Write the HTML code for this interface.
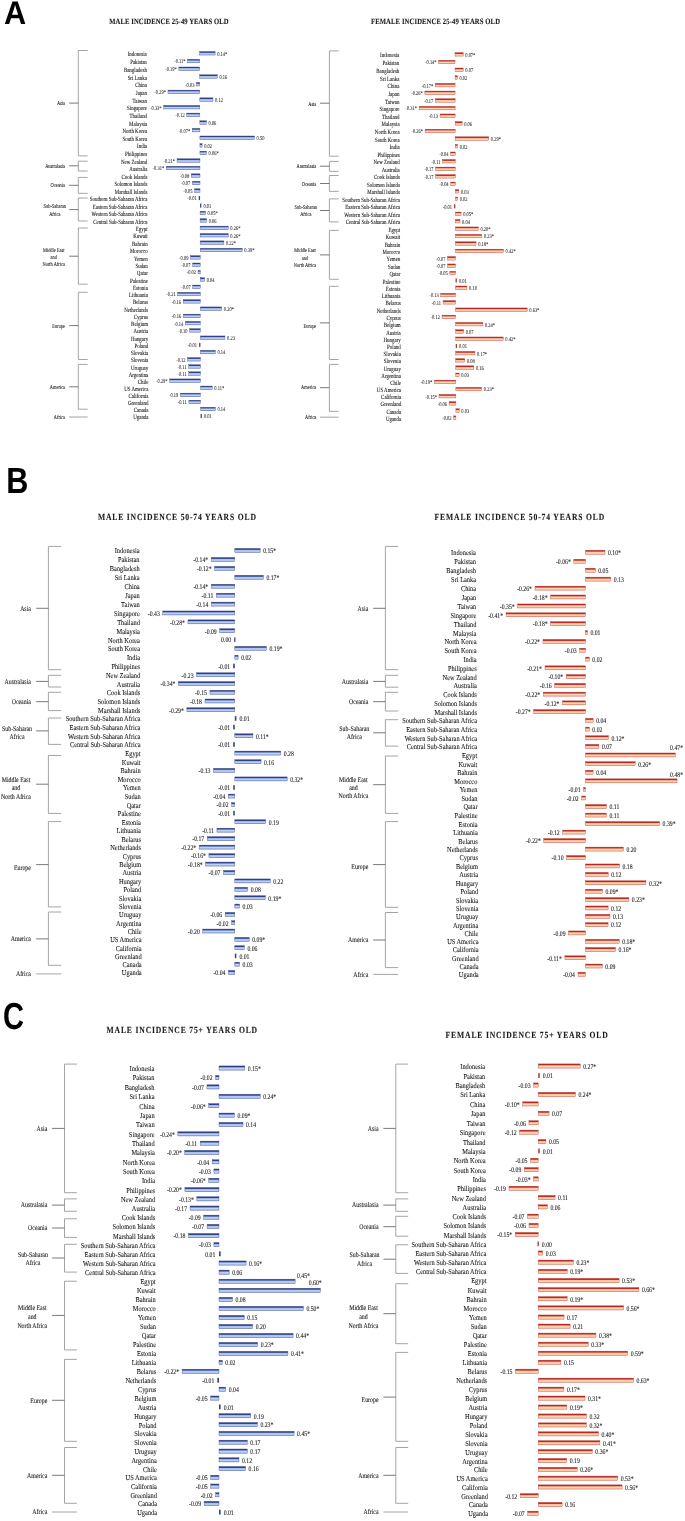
<!DOCTYPE html>
<html><head><meta charset="utf-8"><style>
html,body{margin:0;padding:0;background:#fff;}
svg{display:block;font-family:"Liberation Serif",serif;will-change:transform;text-rendering:geometricPrecision;filter:blur(0.3px);}
text{stroke:#1a1a1a;stroke-width:0.1;}
.br{fill:none;stroke:#9a9a9a;stroke-width:0.9;}
.tk{fill:none;stroke:#6a6a6a;stroke-width:0.9;}
</style></head><body>
<svg width="685" height="1521" viewBox="0 0 685 1521">
<defs>
<linearGradient id="gm" x1="0" y1="0" x2="0" y2="1">
<stop offset="0" stop-color="#22306e"/><stop offset="0.25" stop-color="#34468a"/><stop offset="0.4" stop-color="#95abe0"/><stop offset="0.6" stop-color="#c2d3f3"/><stop offset="0.85" stop-color="#aac0ec"/><stop offset="1" stop-color="#8196d0"/>
</linearGradient>
<linearGradient id="gf" x1="0" y1="0" x2="0" y2="1">
<stop offset="0" stop-color="#a81818"/><stop offset="0.27" stop-color="#c0302a"/><stop offset="0.4" stop-color="#f0a888"/><stop offset="0.6" stop-color="#fcd8b4"/><stop offset="0.85" stop-color="#f8c8a4"/><stop offset="1" stop-color="#e8a088"/>
</linearGradient>
</defs>
<text transform="translate(109.2,23.7) scale(0.82,1)" text-anchor="start" font-size="8.09" font-weight="bold" letter-spacing="0.12" fill="#1a1a1a">MALE INCIDENCE 25-49 YEARS OLD</text>
<path d="M87.7 50.5H78.3V155.9H87.7" class="br"/>
<line x1="69.2" y1="103.1" x2="78.3" y2="103.1" class="tk"/>
<text transform="translate(65,105) scale(0.76,1)" text-anchor="end" font-size="5.8" fill="#1a1a1a">Asia</text>
<path d="M87.7 161.2H78.3V171H87.7" class="br"/>
<line x1="69.2" y1="165.8" x2="78.3" y2="165.8" class="tk"/>
<text transform="translate(65,167.7) scale(0.76,1)" text-anchor="end" font-size="5.8" fill="#1a1a1a">Australasia</text>
<path d="M87.7 177.4H78.3V193.3H87.7" class="br"/>
<line x1="69.2" y1="185.3" x2="78.3" y2="185.3" class="tk"/>
<text transform="translate(65,186.7) scale(0.76,1)" text-anchor="end" font-size="5.8" fill="#1a1a1a">Oceania</text>
<path d="M87.7 198H78.3V221H87.7" class="br"/>
<line x1="69.2" y1="209.6" x2="78.3" y2="209.6" class="tk"/>
<text transform="translate(54.8,208.2) scale(0.76,1)" text-anchor="middle" font-size="5.8" fill="#1a1a1a">Sub-Saharan</text>
<text transform="translate(54.8,215.6) scale(0.76,1)" text-anchor="middle" font-size="5.8" fill="#1a1a1a">Africa</text>
<path d="M87.7 228H78.3V284.2H87.7" class="br"/>
<line x1="69.2" y1="256.2" x2="78.3" y2="256.2" class="tk"/>
<text transform="translate(53.7,251.8) scale(0.76,1)" text-anchor="middle" font-size="5.8" fill="#1a1a1a">Middle East</text>
<text transform="translate(53.7,259.3) scale(0.76,1)" text-anchor="middle" font-size="5.8" fill="#1a1a1a">and</text>
<text transform="translate(53.7,266.3) scale(0.76,1)" text-anchor="middle" font-size="5.8" fill="#1a1a1a">North Africa</text>
<path d="M87.7 292.3H78.3V359.5H87.7" class="br"/>
<line x1="69.2" y1="325.6" x2="78.3" y2="325.6" class="tk"/>
<text transform="translate(65,327.5) scale(0.76,1)" text-anchor="end" font-size="5.8" fill="#1a1a1a">Europe</text>
<path d="M87.7 364.4H78.3V409.2H87.7" class="br"/>
<line x1="69.2" y1="386.8" x2="78.3" y2="386.8" class="tk"/>
<text transform="translate(65,388.7) scale(0.76,1)" text-anchor="end" font-size="5.8" fill="#1a1a1a">America</text>
<line x1="69.2" y1="417" x2="87.7" y2="417" class="br"/>
<text transform="translate(65,418.9) scale(0.76,1)" text-anchor="end" font-size="5.8" fill="#1a1a1a">Africa</text>
<text transform="translate(146.8,56.39) scale(0.77,1)" text-anchor="end" font-size="6.4" style="stroke-width:0.1" fill="#1a1a1a">Indonesia</text>
<rect x="199.7" y="51.54" width="15.42" height="3.5" fill="url(#gm)" stroke="#44549a" stroke-width="0.4"/>
<text transform="translate(217.22,55.66) scale(0.77,1)" text-anchor="start" font-size="5.8" style="stroke-width:0.06" fill="#1a1a1a">0.14*</text>
<text transform="translate(146.83,64.14) scale(0.77,1)" text-anchor="end" font-size="6.4" style="stroke-width:0.1" fill="#1a1a1a">Pakistan</text>
<rect x="187.61" y="59.3" width="12.11" height="3.5" fill="url(#gm)" stroke="#44549a" stroke-width="0.4"/>
<text transform="translate(185.51,63.41) scale(0.77,1)" text-anchor="end" font-size="5.8" style="stroke-width:0.06" fill="#1a1a1a">-0.11*</text>
<text transform="translate(146.87,71.84) scale(0.77,1)" text-anchor="end" font-size="6.4" style="stroke-width:0.1" fill="#1a1a1a">Bangladesh</text>
<rect x="178.84" y="66.99" width="20.9" height="3.5" fill="url(#gm)" stroke="#44549a" stroke-width="0.4"/>
<text transform="translate(176.74,71.11) scale(0.77,1)" text-anchor="end" font-size="5.8" style="stroke-width:0.06" fill="#1a1a1a">-0.19*</text>
<text transform="translate(146.9,79.6) scale(0.77,1)" text-anchor="end" font-size="6.4" style="stroke-width:0.1" fill="#1a1a1a">Sri Lanka</text>
<rect x="199.76" y="74.75" width="17.58" height="3.5" fill="url(#gm)" stroke="#44549a" stroke-width="0.4"/>
<text transform="translate(219.44,78.86) scale(0.77,1)" text-anchor="start" font-size="5.8" style="stroke-width:0.06" fill="#1a1a1a">0.16</text>
<text transform="translate(146.94,87.33) scale(0.77,1)" text-anchor="end" font-size="6.4" style="stroke-width:0.1" fill="#1a1a1a">China</text>
<rect x="196.48" y="82.49" width="3.29" height="3.5" fill="url(#gm)" stroke="#44549a" stroke-width="0.4"/>
<text transform="translate(194.38,86.6) scale(0.77,1)" text-anchor="end" font-size="5.8" style="stroke-width:0.06" fill="#1a1a1a">-0.03</text>
<text transform="translate(146.97,94.98) scale(0.77,1)" text-anchor="end" font-size="6.4" style="stroke-width:0.1" fill="#1a1a1a">Japan</text>
<rect x="167.97" y="90.13" width="31.82" height="3.5" fill="url(#gm)" stroke="#44549a" stroke-width="0.4"/>
<text transform="translate(165.87,94.24) scale(0.77,1)" text-anchor="end" font-size="5.8" style="stroke-width:0.06" fill="#1a1a1a">-0.29*</text>
<text transform="translate(147.01,102.67) scale(0.77,1)" text-anchor="end" font-size="6.4" style="stroke-width:0.1" fill="#1a1a1a">Taiwan</text>
<rect x="199.81" y="97.83" width="13.16" height="3.5" fill="url(#gm)" stroke="#44549a" stroke-width="0.4"/>
<text transform="translate(215.07,101.94) scale(0.77,1)" text-anchor="start" font-size="5.8" style="stroke-width:0.06" fill="#1a1a1a">0.12</text>
<text transform="translate(147.04,110.31) scale(0.77,1)" text-anchor="end" font-size="6.4" style="stroke-width:0.1" fill="#1a1a1a">Singapore</text>
<rect x="163.68" y="105.46" width="36.15" height="3.5" fill="url(#gm)" stroke="#44549a" stroke-width="0.4"/>
<text transform="translate(161.58,109.57) scale(0.77,1)" text-anchor="end" font-size="5.8" style="stroke-width:0.06" fill="#1a1a1a">-0.33*</text>
<text transform="translate(147.08,117.95) scale(0.77,1)" text-anchor="end" font-size="6.4" style="stroke-width:0.1" fill="#1a1a1a">Thailand</text>
<rect x="186.71" y="113.1" width="13.13" height="3.5" fill="url(#gm)" stroke="#44549a" stroke-width="0.4"/>
<text transform="translate(184.61,117.21) scale(0.77,1)" text-anchor="end" font-size="5.8" style="stroke-width:0.06" fill="#1a1a1a">-0.12</text>
<text transform="translate(147.11,125.63) scale(0.77,1)" text-anchor="end" font-size="6.4" style="stroke-width:0.1" fill="#1a1a1a">Malaysia</text>
<rect x="199.87" y="120.79" width="6.56" height="3.5" fill="url(#gm)" stroke="#44549a" stroke-width="0.4"/>
<text transform="translate(208.53,124.9) scale(0.77,1)" text-anchor="start" font-size="5.8" style="stroke-width:0.06" fill="#1a1a1a">0.06</text>
<text transform="translate(147.15,133.25) scale(0.77,1)" text-anchor="end" font-size="6.4" style="stroke-width:0.1" fill="#1a1a1a">North Korea</text>
<rect x="192.23" y="128.4" width="7.65" height="3.5" fill="url(#gm)" stroke="#44549a" stroke-width="0.4"/>
<text transform="translate(190.13,132.51) scale(0.77,1)" text-anchor="end" font-size="5.8" style="stroke-width:0.06" fill="#1a1a1a">-0.07*</text>
<text transform="translate(147.18,140.84) scale(0.77,1)" text-anchor="end" font-size="6.4" style="stroke-width:0.1" fill="#1a1a1a">South Korea</text>
<rect x="199.9" y="135.99" width="54.6" height="3.5" fill="url(#gm)" stroke="#44549a" stroke-width="0.4"/>
<text transform="translate(256.6,140.1) scale(0.77,1)" text-anchor="start" font-size="5.8" style="stroke-width:0.06" fill="#1a1a1a">0.50</text>
<text transform="translate(147.22,148.46) scale(0.77,1)" text-anchor="end" font-size="6.4" style="stroke-width:0.1" fill="#1a1a1a">India</text>
<rect x="199.92" y="143.61" width="2.18" height="3.5" fill="url(#gm)" stroke="#44549a" stroke-width="0.4"/>
<text transform="translate(204.2,147.72) scale(0.77,1)" text-anchor="start" font-size="5.8" style="stroke-width:0.06" fill="#1a1a1a">0.02</text>
<text transform="translate(147.25,156.02) scale(0.77,1)" text-anchor="end" font-size="6.4" style="stroke-width:0.1" fill="#1a1a1a">Philippines</text>
<rect x="199.94" y="151.17" width="6.54" height="3.5" fill="url(#gm)" stroke="#44549a" stroke-width="0.4"/>
<text transform="translate(208.58,155.28) scale(0.77,1)" text-anchor="start" font-size="5.8" style="stroke-width:0.06" fill="#1a1a1a">0.06*</text>
<text transform="translate(147.29,163.6) scale(0.77,1)" text-anchor="end" font-size="6.4" style="stroke-width:0.1" fill="#1a1a1a">New Zealand</text>
<rect x="177.08" y="158.76" width="22.87" height="3.5" fill="url(#gm)" stroke="#44549a" stroke-width="0.4"/>
<text transform="translate(174.98,162.87) scale(0.77,1)" text-anchor="end" font-size="5.8" style="stroke-width:0.06" fill="#1a1a1a">-0.21*</text>
<text transform="translate(147.32,171.1) scale(0.77,1)" text-anchor="end" font-size="6.4" style="stroke-width:0.1" fill="#1a1a1a">Australia</text>
<rect x="166.24" y="166.25" width="33.74" height="3.5" fill="url(#gm)" stroke="#44549a" stroke-width="0.4"/>
<text transform="translate(164.14,170.36) scale(0.77,1)" text-anchor="end" font-size="5.8" style="stroke-width:0.06" fill="#1a1a1a">-0.31*</text>
<text transform="translate(147.36,178.65) scale(0.77,1)" text-anchor="end" font-size="6.4" style="stroke-width:0.1" fill="#1a1a1a">Cook Islands</text>
<rect x="191.29" y="173.81" width="8.7" height="3.5" fill="url(#gm)" stroke="#44549a" stroke-width="0.4"/>
<text transform="translate(189.19,177.92) scale(0.77,1)" text-anchor="end" font-size="5.8" style="stroke-width:0.06" fill="#1a1a1a">-0.08</text>
<text transform="translate(147.39,186.14) scale(0.77,1)" text-anchor="end" font-size="6.4" style="stroke-width:0.1" fill="#1a1a1a">Solomon Islands</text>
<rect x="192.41" y="181.29" width="7.61" height="3.5" fill="url(#gm)" stroke="#44549a" stroke-width="0.4"/>
<text transform="translate(190.31,185.4) scale(0.77,1)" text-anchor="end" font-size="5.8" style="stroke-width:0.06" fill="#1a1a1a">-0.07</text>
<text transform="translate(147.42,193.64) scale(0.77,1)" text-anchor="end" font-size="6.4" style="stroke-width:0.1" fill="#1a1a1a">Marshall Islands</text>
<rect x="194.6" y="188.8" width="5.43" height="3.5" fill="url(#gm)" stroke="#44549a" stroke-width="0.4"/>
<text transform="translate(192.5,192.91) scale(0.77,1)" text-anchor="end" font-size="5.8" style="stroke-width:0.06" fill="#1a1a1a">-0.05</text>
<text transform="translate(147.46,201.13) scale(0.77,1)" text-anchor="end" font-size="6.4" style="stroke-width:0.1" fill="#1a1a1a">Southern Sub-Saharan Africa</text>
<rect x="198.75" y="195.99" width="1.3" height="4.1" fill="#26346e" opacity="0.9"/>
<text transform="translate(196.65,200.4) scale(0.77,1)" text-anchor="end" font-size="5.8" style="stroke-width:0.06" fill="#1a1a1a">-0.01</text>
<text transform="translate(147.49,208.66) scale(0.77,1)" text-anchor="end" font-size="6.4" style="stroke-width:0.1" fill="#1a1a1a">Eastern Sub-Saharan Africa</text>
<rect x="200.07" y="203.51" width="1.3" height="4.1" fill="#26346e" opacity="0.9"/>
<text transform="translate(203.47,207.92) scale(0.77,1)" text-anchor="start" font-size="5.8" style="stroke-width:0.06" fill="#1a1a1a">0.01</text>
<text transform="translate(147.53,216.08) scale(0.77,1)" text-anchor="end" font-size="6.4" style="stroke-width:0.1" fill="#1a1a1a">Western Sub-Saharan Africa</text>
<rect x="200.09" y="211.23" width="5.42" height="3.5" fill="url(#gm)" stroke="#44549a" stroke-width="0.4"/>
<text transform="translate(207.6,215.34) scale(0.77,1)" text-anchor="start" font-size="5.8" style="stroke-width:0.06" fill="#1a1a1a">0.05*</text>
<text transform="translate(147.56,223.53) scale(0.77,1)" text-anchor="end" font-size="6.4" style="stroke-width:0.1" fill="#1a1a1a">Central Sub-Saharan Africa</text>
<rect x="200.1" y="218.69" width="6.49" height="3.5" fill="url(#gm)" stroke="#44549a" stroke-width="0.4"/>
<text transform="translate(208.7,222.8) scale(0.77,1)" text-anchor="start" font-size="5.8" style="stroke-width:0.06" fill="#1a1a1a">0.06</text>
<text transform="translate(147.6,230.98) scale(0.77,1)" text-anchor="end" font-size="6.4" style="stroke-width:0.1" fill="#1a1a1a">Egypt</text>
<rect x="200.12" y="226.13" width="28.11" height="3.5" fill="url(#gm)" stroke="#44549a" stroke-width="0.4"/>
<text transform="translate(230.34,230.24) scale(0.77,1)" text-anchor="start" font-size="5.8" style="stroke-width:0.06" fill="#1a1a1a">0.26*</text>
<text transform="translate(147.63,238.38) scale(0.77,1)" text-anchor="end" font-size="6.4" style="stroke-width:0.1" fill="#1a1a1a">Kuwait</text>
<rect x="200.14" y="233.53" width="28.09" height="3.5" fill="url(#gm)" stroke="#44549a" stroke-width="0.4"/>
<text transform="translate(230.33,237.64) scale(0.77,1)" text-anchor="start" font-size="5.8" style="stroke-width:0.06" fill="#1a1a1a">0.26*</text>
<text transform="translate(147.67,245.75) scale(0.77,1)" text-anchor="end" font-size="6.4" style="stroke-width:0.1" fill="#1a1a1a">Bahrain</text>
<rect x="200.16" y="240.9" width="23.75" height="3.5" fill="url(#gm)" stroke="#44549a" stroke-width="0.4"/>
<text transform="translate(226.01,245.01) scale(0.77,1)" text-anchor="start" font-size="5.8" style="stroke-width:0.06" fill="#1a1a1a">0.22*</text>
<text transform="translate(147.7,253.11) scale(0.77,1)" text-anchor="end" font-size="6.4" style="stroke-width:0.1" fill="#1a1a1a">Morocco</text>
<rect x="200.18" y="248.27" width="42.07" height="3.5" fill="url(#gm)" stroke="#44549a" stroke-width="0.4"/>
<text transform="translate(244.35,252.38) scale(0.77,1)" text-anchor="start" font-size="5.8" style="stroke-width:0.06" fill="#1a1a1a">0.39*</text>
<text transform="translate(147.74,260.51) scale(0.77,1)" text-anchor="end" font-size="6.4" style="stroke-width:0.1" fill="#1a1a1a">Yemen</text>
<rect x="190.5" y="255.66" width="9.7" height="3.5" fill="url(#gm)" stroke="#44549a" stroke-width="0.4"/>
<text transform="translate(188.4,259.77) scale(0.77,1)" text-anchor="end" font-size="5.8" style="stroke-width:0.06" fill="#1a1a1a">-0.09</text>
<text transform="translate(147.77,267.84) scale(0.77,1)" text-anchor="end" font-size="6.4" style="stroke-width:0.1" fill="#1a1a1a">Sudan</text>
<rect x="192.68" y="263" width="7.54" height="3.5" fill="url(#gm)" stroke="#44549a" stroke-width="0.4"/>
<text transform="translate(190.58,267.11) scale(0.77,1)" text-anchor="end" font-size="5.8" style="stroke-width:0.06" fill="#1a1a1a">-0.07</text>
<text transform="translate(147.81,275.18) scale(0.77,1)" text-anchor="end" font-size="6.4" style="stroke-width:0.1" fill="#1a1a1a">Qatar</text>
<rect x="198.08" y="270.34" width="2.15" height="3.5" fill="url(#gm)" stroke="#44549a" stroke-width="0.4"/>
<text transform="translate(195.98,274.45) scale(0.77,1)" text-anchor="end" font-size="5.8" style="stroke-width:0.06" fill="#1a1a1a">-0.02</text>
<text transform="translate(147.84,282.54) scale(0.77,1)" text-anchor="end" font-size="6.4" style="stroke-width:0.1" fill="#1a1a1a">Palestine</text>
<rect x="200.25" y="277.7" width="4.3" height="3.5" fill="url(#gm)" stroke="#44549a" stroke-width="0.4"/>
<text transform="translate(206.65,281.81) scale(0.77,1)" text-anchor="start" font-size="5.8" style="stroke-width:0.06" fill="#1a1a1a">0.04</text>
<text transform="translate(147.88,289.9) scale(0.77,1)" text-anchor="end" font-size="6.4" style="stroke-width:0.1" fill="#1a1a1a">Estonia</text>
<rect x="192.75" y="285.06" width="7.52" height="3.5" fill="url(#gm)" stroke="#44549a" stroke-width="0.4"/>
<text transform="translate(190.65,289.17) scale(0.77,1)" text-anchor="end" font-size="5.8" style="stroke-width:0.06" fill="#1a1a1a">-0.07</text>
<text transform="translate(147.91,297.19) scale(0.77,1)" text-anchor="end" font-size="6.4" style="stroke-width:0.1" fill="#1a1a1a">Lithuania</text>
<rect x="177.75" y="292.35" width="22.54" height="3.5" fill="url(#gm)" stroke="#44549a" stroke-width="0.4"/>
<text transform="translate(175.65,296.46) scale(0.77,1)" text-anchor="end" font-size="5.8" style="stroke-width:0.06" fill="#1a1a1a">-0.21</text>
<text transform="translate(147.94,304.48) scale(0.77,1)" text-anchor="end" font-size="6.4" style="stroke-width:0.1" fill="#1a1a1a">Belarus</text>
<rect x="183.15" y="299.64" width="17.16" height="3.5" fill="url(#gm)" stroke="#44549a" stroke-width="0.4"/>
<text transform="translate(181.05,303.75) scale(0.77,1)" text-anchor="end" font-size="5.8" style="stroke-width:0.06" fill="#1a1a1a">-0.16</text>
<text transform="translate(147.98,311.76) scale(0.77,1)" text-anchor="end" font-size="6.4" style="stroke-width:0.1" fill="#1a1a1a">Netherlands</text>
<rect x="200.32" y="306.92" width="21.43" height="3.5" fill="url(#gm)" stroke="#44549a" stroke-width="0.4"/>
<text transform="translate(223.86,311.03) scale(0.77,1)" text-anchor="start" font-size="5.8" style="stroke-width:0.06" fill="#1a1a1a">0.20*</text>
<text transform="translate(148.01,319) scale(0.77,1)" text-anchor="end" font-size="6.4" style="stroke-width:0.1" fill="#1a1a1a">Cyprus</text>
<rect x="183.21" y="314.15" width="17.13" height="3.5" fill="url(#gm)" stroke="#44549a" stroke-width="0.4"/>
<text transform="translate(181.11,318.26) scale(0.77,1)" text-anchor="end" font-size="5.8" style="stroke-width:0.06" fill="#1a1a1a">-0.16</text>
<text transform="translate(148.05,326.26) scale(0.77,1)" text-anchor="end" font-size="6.4" style="stroke-width:0.1" fill="#1a1a1a">Belgium</text>
<rect x="185.38" y="321.41" width="14.98" height="3.5" fill="url(#gm)" stroke="#44549a" stroke-width="0.4"/>
<text transform="translate(183.28,325.52) scale(0.77,1)" text-anchor="end" font-size="5.8" style="stroke-width:0.06" fill="#1a1a1a">-0.14</text>
<text transform="translate(148.08,333.48) scale(0.77,1)" text-anchor="end" font-size="6.4" style="stroke-width:0.1" fill="#1a1a1a">Austria</text>
<rect x="189.69" y="328.64" width="10.69" height="3.5" fill="url(#gm)" stroke="#44549a" stroke-width="0.4"/>
<text transform="translate(187.59,332.75) scale(0.77,1)" text-anchor="end" font-size="5.8" style="stroke-width:0.06" fill="#1a1a1a">-0.10</text>
<text transform="translate(148.12,340.79) scale(0.77,1)" text-anchor="end" font-size="6.4" style="stroke-width:0.1" fill="#1a1a1a">Hungary</text>
<rect x="200.4" y="335.94" width="24.57" height="3.5" fill="url(#gm)" stroke="#44549a" stroke-width="0.4"/>
<text transform="translate(227.06,340.06) scale(0.77,1)" text-anchor="start" font-size="5.8" style="stroke-width:0.06" fill="#1a1a1a">0.23</text>
<text transform="translate(148.15,347.96) scale(0.77,1)" text-anchor="end" font-size="6.4" style="stroke-width:0.1" fill="#1a1a1a">Poland</text>
<rect x="199.12" y="342.82" width="1.3" height="4.1" fill="#26346e" opacity="0.9"/>
<text transform="translate(197.02,347.23) scale(0.77,1)" text-anchor="end" font-size="5.8" style="stroke-width:0.06" fill="#1a1a1a">-0.01</text>
<text transform="translate(148.19,355.2) scale(0.77,1)" text-anchor="end" font-size="6.4" style="stroke-width:0.1" fill="#1a1a1a">Slovakia</text>
<rect x="200.43" y="350.36" width="14.93" height="3.5" fill="url(#gm)" stroke="#44549a" stroke-width="0.4"/>
<text transform="translate(217.46,354.47) scale(0.77,1)" text-anchor="start" font-size="5.8" style="stroke-width:0.06" fill="#1a1a1a">0.14</text>
<text transform="translate(148.22,362.41) scale(0.77,1)" text-anchor="end" font-size="6.4" style="stroke-width:0.1" fill="#1a1a1a">Slovenia</text>
<rect x="187.67" y="357.57" width="12.79" height="3.5" fill="url(#gm)" stroke="#44549a" stroke-width="0.4"/>
<text transform="translate(185.57,361.68) scale(0.77,1)" text-anchor="end" font-size="5.8" style="stroke-width:0.06" fill="#1a1a1a">-0.12</text>
<text transform="translate(148.26,369.55) scale(0.77,1)" text-anchor="end" font-size="6.4" style="stroke-width:0.1" fill="#1a1a1a">Uruguay</text>
<rect x="188.76" y="364.7" width="11.71" height="3.5" fill="url(#gm)" stroke="#44549a" stroke-width="0.4"/>
<text transform="translate(186.66,368.81) scale(0.77,1)" text-anchor="end" font-size="5.8" style="stroke-width:0.06" fill="#1a1a1a">-0.11</text>
<text transform="translate(148.29,376.65) scale(0.77,1)" text-anchor="end" font-size="6.4" style="stroke-width:0.1" fill="#1a1a1a">Argentina</text>
<rect x="188.79" y="371.8" width="11.7" height="3.5" fill="url(#gm)" stroke="#44549a" stroke-width="0.4"/>
<text transform="translate(186.69,375.91) scale(0.77,1)" text-anchor="end" font-size="5.8" style="stroke-width:0.06" fill="#1a1a1a">-0.11</text>
<text transform="translate(148.33,383.76) scale(0.77,1)" text-anchor="end" font-size="6.4" style="stroke-width:0.1" fill="#1a1a1a">Chile</text>
<rect x="169.69" y="378.91" width="30.82" height="3.5" fill="url(#gm)" stroke="#44549a" stroke-width="0.4"/>
<text transform="translate(167.59,383.02) scale(0.77,1)" text-anchor="end" font-size="5.8" style="stroke-width:0.06" fill="#1a1a1a">-0.29*</text>
<text transform="translate(148.36,390.91) scale(0.77,1)" text-anchor="end" font-size="6.4" style="stroke-width:0.1" fill="#1a1a1a">US America</text>
<rect x="200.53" y="386.06" width="11.68" height="3.5" fill="url(#gm)" stroke="#44549a" stroke-width="0.4"/>
<text transform="translate(214.31,390.17) scale(0.77,1)" text-anchor="start" font-size="5.8" style="stroke-width:0.06" fill="#1a1a1a">0.11*</text>
<text transform="translate(148.4,398) scale(0.77,1)" text-anchor="end" font-size="6.4" style="stroke-width:0.1" fill="#1a1a1a">California</text>
<rect x="180.39" y="393.15" width="20.16" height="3.5" fill="url(#gm)" stroke="#44549a" stroke-width="0.4"/>
<text transform="translate(178.29,397.26) scale(0.77,1)" text-anchor="end" font-size="5.8" style="stroke-width:0.06" fill="#1a1a1a">-0.19</text>
<text transform="translate(148.43,405.03) scale(0.77,1)" text-anchor="end" font-size="6.4" style="stroke-width:0.1" fill="#1a1a1a">Greenland</text>
<rect x="188.9" y="400.18" width="11.66" height="3.5" fill="url(#gm)" stroke="#44549a" stroke-width="0.4"/>
<text transform="translate(186.8,404.29) scale(0.77,1)" text-anchor="end" font-size="5.8" style="stroke-width:0.06" fill="#1a1a1a">-0.11</text>
<text transform="translate(148.47,412.11) scale(0.77,1)" text-anchor="end" font-size="6.4" style="stroke-width:0.1" fill="#1a1a1a">Canada</text>
<rect x="200.58" y="407.26" width="14.83" height="3.5" fill="url(#gm)" stroke="#44549a" stroke-width="0.4"/>
<text transform="translate(217.51,411.37) scale(0.77,1)" text-anchor="start" font-size="5.8" style="stroke-width:0.06" fill="#1a1a1a">0.14</text>
<text transform="translate(148.5,419.13) scale(0.77,1)" text-anchor="end" font-size="6.4" style="stroke-width:0.1" fill="#1a1a1a">Uganda</text>
<rect x="200.6" y="413.99" width="1.3" height="4.1" fill="#26346e" opacity="0.9"/>
<text transform="translate(204,418.4) scale(0.77,1)" text-anchor="start" font-size="5.8" style="stroke-width:0.06" fill="#1a1a1a">0.01</text>
<text transform="translate(371,23.6) scale(0.82,1)" text-anchor="start" font-size="8.09" font-weight="bold" letter-spacing="0.16" fill="#1a1a1a">FEMALE INCIDENCE 25-49 YEARS OLD</text>
<path d="M338.6 50.9H329.4V156.2H338.6" class="br"/>
<line x1="320" y1="103.2" x2="329.4" y2="103.2" class="tk"/>
<text transform="translate(316.3,105.8) scale(0.76,1)" text-anchor="end" font-size="5.8" fill="#1a1a1a">Asia</text>
<path d="M338.6 161.4H329.4V171.3H338.6" class="br"/>
<line x1="320" y1="166.2" x2="329.4" y2="166.2" class="tk"/>
<text transform="translate(316.3,167.7) scale(0.76,1)" text-anchor="end" font-size="5.8" fill="#1a1a1a">Australasia</text>
<path d="M338.6 175.5H329.4V191.4H338.6" class="br"/>
<line x1="320" y1="183.5" x2="329.4" y2="183.5" class="tk"/>
<text transform="translate(316.3,186.3) scale(0.76,1)" text-anchor="end" font-size="5.8" fill="#1a1a1a">Oceania</text>
<path d="M338.6 198.9H329.4V221.9H338.6" class="br"/>
<line x1="320" y1="210.5" x2="329.4" y2="210.5" class="tk"/>
<text transform="translate(305.8,208.6) scale(0.76,1)" text-anchor="middle" font-size="5.8" fill="#1a1a1a">Sub-Saharan</text>
<text transform="translate(305.8,216.1) scale(0.76,1)" text-anchor="middle" font-size="5.8" fill="#1a1a1a">Africa</text>
<path d="M338.6 230.4H329.4V279.3H338.6" class="br"/>
<line x1="320" y1="254.9" x2="329.4" y2="254.9" class="tk"/>
<text transform="translate(305,252.3) scale(0.76,1)" text-anchor="middle" font-size="5.8" fill="#1a1a1a">Middle East</text>
<text transform="translate(305,259.7) scale(0.76,1)" text-anchor="middle" font-size="5.8" fill="#1a1a1a">and</text>
<text transform="translate(305,266.7) scale(0.76,1)" text-anchor="middle" font-size="5.8" fill="#1a1a1a">North Africa</text>
<path d="M338.6 286.3H329.4V359.5H338.6" class="br"/>
<line x1="320" y1="322.9" x2="329.4" y2="322.9" class="tk"/>
<text transform="translate(316.3,327.6) scale(0.76,1)" text-anchor="end" font-size="5.8" fill="#1a1a1a">Europe</text>
<path d="M338.6 364.4H329.4V411.4H338.6" class="br"/>
<line x1="320" y1="387.7" x2="329.4" y2="387.7" class="tk"/>
<text transform="translate(316.3,389) scale(0.76,1)" text-anchor="end" font-size="5.8" fill="#1a1a1a">America</text>
<line x1="320" y1="417.2" x2="338.6" y2="417.2" class="br"/>
<text transform="translate(316.3,419.1) scale(0.76,1)" text-anchor="end" font-size="5.8" fill="#1a1a1a">Africa</text>
<text transform="translate(399.2,57.44) scale(0.77,1)" text-anchor="end" font-size="6.4" style="stroke-width:0.1" fill="#1a1a1a">Indonesia</text>
<rect x="455" y="52.6" width="8.18" height="3.5" fill="url(#gf)" stroke="#c0463c" stroke-width="0.4"/>
<text transform="translate(465.28,56.71) scale(0.77,1)" text-anchor="start" font-size="5.8" style="stroke-width:0.06" fill="#1a1a1a">0.07*</text>
<text transform="translate(399.24,65.12) scale(0.77,1)" text-anchor="end" font-size="6.4" style="stroke-width:0.1" fill="#1a1a1a">Pakistan</text>
<rect x="438.68" y="60.27" width="16.34" height="3.5" fill="url(#gf)" stroke="#c0463c" stroke-width="0.4"/>
<text transform="translate(436.58,64.38) scale(0.77,1)" text-anchor="end" font-size="5.8" style="stroke-width:0.06" fill="#1a1a1a">-0.14*</text>
<text transform="translate(399.28,72.84) scale(0.77,1)" text-anchor="end" font-size="6.4" style="stroke-width:0.1" fill="#1a1a1a">Bangladesh</text>
<rect x="455.04" y="67.99" width="8.16" height="3.5" fill="url(#gf)" stroke="#c0463c" stroke-width="0.4"/>
<text transform="translate(465.3,72.11) scale(0.77,1)" text-anchor="start" font-size="5.8" style="stroke-width:0.06" fill="#1a1a1a">0.07</text>
<text transform="translate(399.32,80.55) scale(0.77,1)" text-anchor="end" font-size="6.4" style="stroke-width:0.1" fill="#1a1a1a">Sri Lanka</text>
<rect x="455.06" y="75.71" width="2.33" height="3.5" fill="url(#gf)" stroke="#c0463c" stroke-width="0.4"/>
<text transform="translate(459.49,79.82) scale(0.77,1)" text-anchor="start" font-size="5.8" style="stroke-width:0.06" fill="#1a1a1a">0.02</text>
<text transform="translate(399.36,88.24) scale(0.77,1)" text-anchor="end" font-size="6.4" style="stroke-width:0.1" fill="#1a1a1a">China</text>
<rect x="435.28" y="83.39" width="19.79" height="3.5" fill="url(#gf)" stroke="#c0463c" stroke-width="0.4"/>
<text transform="translate(433.18,87.5) scale(0.77,1)" text-anchor="end" font-size="5.8" style="stroke-width:0.06" fill="#1a1a1a">-0.17*</text>
<text transform="translate(399.4,95.9) scale(0.77,1)" text-anchor="end" font-size="6.4" style="stroke-width:0.1" fill="#1a1a1a">Japan</text>
<rect x="424.85" y="91.05" width="30.24" height="3.5" fill="url(#gf)" stroke="#c0463c" stroke-width="0.4"/>
<text transform="translate(422.75,95.16) scale(0.77,1)" text-anchor="end" font-size="5.8" style="stroke-width:0.06" fill="#1a1a1a">-0.26*</text>
<text transform="translate(399.44,103.53) scale(0.77,1)" text-anchor="end" font-size="6.4" style="stroke-width:0.1" fill="#1a1a1a">Taiwan</text>
<rect x="435.35" y="98.69" width="19.76" height="3.5" fill="url(#gf)" stroke="#c0463c" stroke-width="0.4"/>
<text transform="translate(433.25,102.8) scale(0.77,1)" text-anchor="end" font-size="5.8" style="stroke-width:0.06" fill="#1a1a1a">-0.17</text>
<text transform="translate(399.49,111.2) scale(0.77,1)" text-anchor="end" font-size="6.4" style="stroke-width:0.1" fill="#1a1a1a">Singapore</text>
<rect x="419.13" y="106.35" width="36" height="3.5" fill="url(#gf)" stroke="#c0463c" stroke-width="0.4"/>
<text transform="translate(417.03,110.46) scale(0.77,1)" text-anchor="end" font-size="5.8" style="stroke-width:0.06" fill="#1a1a1a">-0.31*</text>
<text transform="translate(399.53,118.81) scale(0.77,1)" text-anchor="end" font-size="6.4" style="stroke-width:0.1" fill="#1a1a1a">Thailand</text>
<rect x="440.06" y="113.97" width="15.09" height="3.5" fill="url(#gf)" stroke="#c0463c" stroke-width="0.4"/>
<text transform="translate(437.96,118.08) scale(0.77,1)" text-anchor="end" font-size="5.8" style="stroke-width:0.06" fill="#1a1a1a">-0.13</text>
<text transform="translate(399.57,126.47) scale(0.77,1)" text-anchor="end" font-size="6.4" style="stroke-width:0.1" fill="#1a1a1a">Malaysia</text>
<rect x="455.17" y="121.63" width="6.96" height="3.5" fill="url(#gf)" stroke="#c0463c" stroke-width="0.4"/>
<text transform="translate(464.22,125.74) scale(0.77,1)" text-anchor="start" font-size="5.8" style="stroke-width:0.06" fill="#1a1a1a">0.06</text>
<text transform="translate(399.61,134.06) scale(0.77,1)" text-anchor="end" font-size="6.4" style="stroke-width:0.1" fill="#1a1a1a">North Korea</text>
<rect x="425.06" y="129.22" width="30.12" height="3.5" fill="url(#gf)" stroke="#c0463c" stroke-width="0.4"/>
<text transform="translate(422.96,133.33) scale(0.77,1)" text-anchor="end" font-size="5.8" style="stroke-width:0.06" fill="#1a1a1a">-0.26*</text>
<text transform="translate(399.65,141.63) scale(0.77,1)" text-anchor="end" font-size="6.4" style="stroke-width:0.1" fill="#1a1a1a">South Korea</text>
<rect x="455.2" y="136.78" width="33.57" height="3.5" fill="url(#gf)" stroke="#c0463c" stroke-width="0.4"/>
<text transform="translate(490.87,140.89) scale(0.77,1)" text-anchor="start" font-size="5.8" style="stroke-width:0.06" fill="#1a1a1a">0.29*</text>
<text transform="translate(399.69,149.24) scale(0.77,1)" text-anchor="end" font-size="6.4" style="stroke-width:0.1" fill="#1a1a1a">India</text>
<rect x="455.22" y="144.4" width="2.31" height="3.5" fill="url(#gf)" stroke="#c0463c" stroke-width="0.4"/>
<text transform="translate(459.63,148.51) scale(0.77,1)" text-anchor="start" font-size="5.8" style="stroke-width:0.06" fill="#1a1a1a">0.02</text>
<text transform="translate(399.73,156.83) scale(0.77,1)" text-anchor="end" font-size="6.4" style="stroke-width:0.1" fill="#1a1a1a">Philippines</text>
<rect x="450.62" y="151.98" width="4.62" height="3.5" fill="url(#gf)" stroke="#c0463c" stroke-width="0.4"/>
<text transform="translate(448.52,156.09) scale(0.77,1)" text-anchor="end" font-size="5.8" style="stroke-width:0.06" fill="#1a1a1a">-0.04</text>
<text transform="translate(399.77,164.35) scale(0.77,1)" text-anchor="end" font-size="6.4" style="stroke-width:0.1" fill="#1a1a1a">New Zealand</text>
<rect x="442.55" y="159.5" width="12.7" height="3.5" fill="url(#gf)" stroke="#c0463c" stroke-width="0.4"/>
<text transform="translate(440.45,163.61) scale(0.77,1)" text-anchor="end" font-size="5.8" style="stroke-width:0.06" fill="#1a1a1a">-0.11</text>
<text transform="translate(399.81,171.93) scale(0.77,1)" text-anchor="end" font-size="6.4" style="stroke-width:0.1" fill="#1a1a1a">Australia</text>
<rect x="435.66" y="167.08" width="19.62" height="3.5" fill="url(#gf)" stroke="#c0463c" stroke-width="0.4"/>
<text transform="translate(433.56,171.19) scale(0.77,1)" text-anchor="end" font-size="5.8" style="stroke-width:0.06" fill="#1a1a1a">-0.17</text>
<text transform="translate(399.85,179.44) scale(0.77,1)" text-anchor="end" font-size="6.4" style="stroke-width:0.1" fill="#1a1a1a">Cook Islands</text>
<rect x="435.69" y="174.59" width="19.6" height="3.5" fill="url(#gf)" stroke="#c0463c" stroke-width="0.4"/>
<text transform="translate(433.59,178.7) scale(0.77,1)" text-anchor="end" font-size="5.8" style="stroke-width:0.06" fill="#1a1a1a">-0.17</text>
<text transform="translate(399.89,186.92) scale(0.77,1)" text-anchor="end" font-size="6.4" style="stroke-width:0.1" fill="#1a1a1a">Solomon Islands</text>
<rect x="450.7" y="182.07" width="4.61" height="3.5" fill="url(#gf)" stroke="#c0463c" stroke-width="0.4"/>
<text transform="translate(448.6,186.19) scale(0.77,1)" text-anchor="end" font-size="5.8" style="stroke-width:0.06" fill="#1a1a1a">-0.04</text>
<text transform="translate(399.93,194.42) scale(0.77,1)" text-anchor="end" font-size="6.4" style="stroke-width:0.1" fill="#1a1a1a">Marshall Islands</text>
<rect x="455.33" y="189.58" width="3.45" height="3.5" fill="url(#gf)" stroke="#c0463c" stroke-width="0.4"/>
<text transform="translate(460.88,193.69) scale(0.77,1)" text-anchor="start" font-size="5.8" style="stroke-width:0.06" fill="#1a1a1a">0.03</text>
<text transform="translate(399.98,201.92) scale(0.77,1)" text-anchor="end" font-size="6.4" style="stroke-width:0.1" fill="#1a1a1a">Southern Sub-Saharan Africa</text>
<rect x="455.35" y="197.07" width="2.3" height="3.5" fill="url(#gf)" stroke="#c0463c" stroke-width="0.4"/>
<text transform="translate(459.75,201.18) scale(0.77,1)" text-anchor="start" font-size="5.8" style="stroke-width:0.06" fill="#1a1a1a">0.02</text>
<text transform="translate(400.02,209.4) scale(0.77,1)" text-anchor="end" font-size="6.4" style="stroke-width:0.1" fill="#1a1a1a">Eastern Sub-Saharan Africa</text>
<rect x="454.07" y="204.25" width="1.3" height="4.1" fill="#a82020" opacity="0.9"/>
<text transform="translate(451.97,208.66) scale(0.77,1)" text-anchor="end" font-size="5.8" style="stroke-width:0.06" fill="#1a1a1a">-0.01</text>
<text transform="translate(400.06,216.9) scale(0.77,1)" text-anchor="end" font-size="6.4" style="stroke-width:0.1" fill="#1a1a1a">Western Sub-Saharan Africa</text>
<rect x="455.39" y="212.05" width="5.74" height="3.5" fill="url(#gf)" stroke="#c0463c" stroke-width="0.4"/>
<text transform="translate(463.23,216.16) scale(0.77,1)" text-anchor="start" font-size="5.8" style="stroke-width:0.06" fill="#1a1a1a">0.05*</text>
<text transform="translate(400.1,224.31) scale(0.77,1)" text-anchor="end" font-size="6.4" style="stroke-width:0.1" fill="#1a1a1a">Central Sub-Saharan Africa</text>
<rect x="455.4" y="219.47" width="4.59" height="3.5" fill="url(#gf)" stroke="#c0463c" stroke-width="0.4"/>
<text transform="translate(462.09,223.58) scale(0.77,1)" text-anchor="start" font-size="5.8" style="stroke-width:0.06" fill="#1a1a1a">0.04</text>
<text transform="translate(400.14,231.79) scale(0.77,1)" text-anchor="end" font-size="6.4" style="stroke-width:0.1" fill="#1a1a1a">Egypt</text>
<rect x="455.42" y="226.94" width="22.93" height="3.5" fill="url(#gf)" stroke="#c0463c" stroke-width="0.4"/>
<text transform="translate(480.45,231.05) scale(0.77,1)" text-anchor="start" font-size="5.8" style="stroke-width:0.06" fill="#1a1a1a">0.20*</text>
<text transform="translate(400.18,239.18) scale(0.77,1)" text-anchor="end" font-size="6.4" style="stroke-width:0.1" fill="#1a1a1a">Kuwait</text>
<rect x="455.44" y="234.34" width="26.35" height="3.5" fill="url(#gf)" stroke="#c0463c" stroke-width="0.4"/>
<text transform="translate(483.89,238.45) scale(0.77,1)" text-anchor="start" font-size="5.8" style="stroke-width:0.06" fill="#1a1a1a">0.23*</text>
<text transform="translate(400.22,246.59) scale(0.77,1)" text-anchor="end" font-size="6.4" style="stroke-width:0.1" fill="#1a1a1a">Bahrain</text>
<rect x="455.46" y="241.75" width="20.6" height="3.5" fill="url(#gf)" stroke="#c0463c" stroke-width="0.4"/>
<text transform="translate(478.16,245.86) scale(0.77,1)" text-anchor="start" font-size="5.8" style="stroke-width:0.06" fill="#1a1a1a">0.18*</text>
<text transform="translate(400.26,254.01) scale(0.77,1)" text-anchor="end" font-size="6.4" style="stroke-width:0.1" fill="#1a1a1a">Morocco</text>
<rect x="455.48" y="249.16" width="48.03" height="3.5" fill="url(#gf)" stroke="#c0463c" stroke-width="0.4"/>
<text transform="translate(505.61,253.27) scale(0.77,1)" text-anchor="start" font-size="5.8" style="stroke-width:0.06" fill="#1a1a1a">0.42*</text>
<text transform="translate(400.3,261.42) scale(0.77,1)" text-anchor="end" font-size="6.4" style="stroke-width:0.1" fill="#1a1a1a">Yemen</text>
<rect x="447.5" y="256.57" width="8" height="3.5" fill="url(#gf)" stroke="#c0463c" stroke-width="0.4"/>
<text transform="translate(445.4,260.68) scale(0.77,1)" text-anchor="end" font-size="5.8" style="stroke-width:0.06" fill="#1a1a1a">-0.07</text>
<text transform="translate(400.34,268.79) scale(0.77,1)" text-anchor="end" font-size="6.4" style="stroke-width:0.1" fill="#1a1a1a">Sudan</text>
<rect x="447.52" y="263.95" width="7.99" height="3.5" fill="url(#gf)" stroke="#c0463c" stroke-width="0.4"/>
<text transform="translate(445.42,268.06) scale(0.77,1)" text-anchor="end" font-size="5.8" style="stroke-width:0.06" fill="#1a1a1a">-0.07</text>
<text transform="translate(400.38,276.13) scale(0.77,1)" text-anchor="end" font-size="6.4" style="stroke-width:0.1" fill="#1a1a1a">Qatar</text>
<rect x="449.83" y="271.29" width="5.7" height="3.5" fill="url(#gf)" stroke="#c0463c" stroke-width="0.4"/>
<text transform="translate(447.73,275.4) scale(0.77,1)" text-anchor="end" font-size="5.8" style="stroke-width:0.06" fill="#1a1a1a">-0.05</text>
<text transform="translate(400.42,283.56) scale(0.77,1)" text-anchor="end" font-size="6.4" style="stroke-width:0.1" fill="#1a1a1a">Palestine</text>
<rect x="455.55" y="278.42" width="1.3" height="4.1" fill="#a82020" opacity="0.9"/>
<text transform="translate(458.95,282.83) scale(0.77,1)" text-anchor="start" font-size="5.8" style="stroke-width:0.06" fill="#1a1a1a">0.01</text>
<text transform="translate(400.47,290.85) scale(0.77,1)" text-anchor="end" font-size="6.4" style="stroke-width:0.1" fill="#1a1a1a">Estonia</text>
<rect x="455.57" y="286" width="11.39" height="3.5" fill="url(#gf)" stroke="#c0463c" stroke-width="0.4"/>
<text transform="translate(469.06,290.11) scale(0.77,1)" text-anchor="start" font-size="5.8" style="stroke-width:0.06" fill="#1a1a1a">0.10</text>
<text transform="translate(400.51,298.16) scale(0.77,1)" text-anchor="end" font-size="6.4" style="stroke-width:0.1" fill="#1a1a1a">Lithuania</text>
<rect x="440.79" y="293.31" width="14.79" height="3.5" fill="url(#gf)" stroke="#c0463c" stroke-width="0.4"/>
<text transform="translate(438.69,297.42) scale(0.77,1)" text-anchor="end" font-size="5.8" style="stroke-width:0.06" fill="#1a1a1a">-0.13</text>
<text transform="translate(400.55,305.45) scale(0.77,1)" text-anchor="end" font-size="6.4" style="stroke-width:0.1" fill="#1a1a1a">Belarus</text>
<rect x="443.1" y="300.6" width="12.51" height="3.5" fill="url(#gf)" stroke="#c0463c" stroke-width="0.4"/>
<text transform="translate(441,304.71) scale(0.77,1)" text-anchor="end" font-size="5.8" style="stroke-width:0.06" fill="#1a1a1a">-0.11</text>
<text transform="translate(400.59,312.78) scale(0.77,1)" text-anchor="end" font-size="6.4" style="stroke-width:0.1" fill="#1a1a1a">Netherlands</text>
<rect x="455.62" y="307.93" width="71.58" height="3.5" fill="url(#gf)" stroke="#c0463c" stroke-width="0.4"/>
<text transform="translate(529.3,312.04) scale(0.77,1)" text-anchor="start" font-size="5.8" style="stroke-width:0.06" fill="#1a1a1a">0.63*</text>
<text transform="translate(400.63,320.02) scale(0.77,1)" text-anchor="end" font-size="6.4" style="stroke-width:0.1" fill="#1a1a1a">Cyprus</text>
<rect x="442.02" y="315.17" width="13.62" height="3.5" fill="url(#gf)" stroke="#c0463c" stroke-width="0.4"/>
<text transform="translate(439.92,319.29) scale(0.77,1)" text-anchor="end" font-size="5.8" style="stroke-width:0.06" fill="#1a1a1a">-0.12</text>
<text transform="translate(400.67,327.27) scale(0.77,1)" text-anchor="end" font-size="6.4" style="stroke-width:0.1" fill="#1a1a1a">Belgium</text>
<rect x="455.66" y="322.42" width="27.22" height="3.5" fill="url(#gf)" stroke="#c0463c" stroke-width="0.4"/>
<text transform="translate(484.98,326.53) scale(0.77,1)" text-anchor="start" font-size="5.8" style="stroke-width:0.06" fill="#1a1a1a">0.24*</text>
<text transform="translate(400.71,334.58) scale(0.77,1)" text-anchor="end" font-size="6.4" style="stroke-width:0.1" fill="#1a1a1a">Austria</text>
<rect x="455.68" y="329.73" width="7.93" height="3.5" fill="url(#gf)" stroke="#c0463c" stroke-width="0.4"/>
<text transform="translate(465.71,333.84) scale(0.77,1)" text-anchor="start" font-size="5.8" style="stroke-width:0.06" fill="#1a1a1a">0.07</text>
<text transform="translate(400.75,341.82) scale(0.77,1)" text-anchor="end" font-size="6.4" style="stroke-width:0.1" fill="#1a1a1a">Hungary</text>
<rect x="455.7" y="336.97" width="47.56" height="3.5" fill="url(#gf)" stroke="#c0463c" stroke-width="0.4"/>
<text transform="translate(505.36,341.08) scale(0.77,1)" text-anchor="start" font-size="5.8" style="stroke-width:0.06" fill="#1a1a1a">0.42*</text>
<text transform="translate(400.79,349.09) scale(0.77,1)" text-anchor="end" font-size="6.4" style="stroke-width:0.1" fill="#1a1a1a">Poland</text>
<rect x="455.72" y="343.95" width="1.3" height="4.1" fill="#a82020" opacity="0.9"/>
<text transform="translate(459.12,348.36) scale(0.77,1)" text-anchor="start" font-size="5.8" style="stroke-width:0.06" fill="#1a1a1a">0.01</text>
<text transform="translate(400.83,356.28) scale(0.77,1)" text-anchor="end" font-size="6.4" style="stroke-width:0.1" fill="#1a1a1a">Slovakia</text>
<rect x="455.73" y="351.43" width="19.22" height="3.5" fill="url(#gf)" stroke="#c0463c" stroke-width="0.4"/>
<text transform="translate(477.05,355.54) scale(0.77,1)" text-anchor="start" font-size="5.8" style="stroke-width:0.06" fill="#1a1a1a">0.17*</text>
<text transform="translate(400.87,363.46) scale(0.77,1)" text-anchor="end" font-size="6.4" style="stroke-width:0.1" fill="#1a1a1a">Slovenia</text>
<rect x="455.75" y="358.61" width="9.04" height="3.5" fill="url(#gf)" stroke="#c0463c" stroke-width="0.4"/>
<text transform="translate(466.89,362.72) scale(0.77,1)" text-anchor="start" font-size="5.8" style="stroke-width:0.06" fill="#1a1a1a">0.08</text>
<text transform="translate(400.91,370.65) scale(0.77,1)" text-anchor="end" font-size="6.4" style="stroke-width:0.1" fill="#1a1a1a">Uruguay</text>
<rect x="455.77" y="365.81" width="18.06" height="3.5" fill="url(#gf)" stroke="#c0463c" stroke-width="0.4"/>
<text transform="translate(475.93,369.92) scale(0.77,1)" text-anchor="start" font-size="5.8" style="stroke-width:0.06" fill="#1a1a1a">0.16</text>
<text transform="translate(400.96,377.88) scale(0.77,1)" text-anchor="end" font-size="6.4" style="stroke-width:0.1" fill="#1a1a1a">Argentina</text>
<rect x="455.79" y="373.04" width="3.38" height="3.5" fill="url(#gf)" stroke="#c0463c" stroke-width="0.4"/>
<text transform="translate(461.27,377.15) scale(0.77,1)" text-anchor="start" font-size="5.8" style="stroke-width:0.06" fill="#1a1a1a">0.03</text>
<text transform="translate(401,385) scale(0.77,1)" text-anchor="end" font-size="6.4" style="stroke-width:0.1" fill="#1a1a1a">Chile</text>
<rect x="434.4" y="380.15" width="21.41" height="3.5" fill="url(#gf)" stroke="#c0463c" stroke-width="0.4"/>
<text transform="translate(432.3,384.26) scale(0.77,1)" text-anchor="end" font-size="5.8" style="stroke-width:0.06" fill="#1a1a1a">-0.19*</text>
<text transform="translate(401.04,392.18) scale(0.77,1)" text-anchor="end" font-size="6.4" style="stroke-width:0.1" fill="#1a1a1a">US America</text>
<rect x="455.83" y="387.33" width="25.89" height="3.5" fill="url(#gf)" stroke="#c0463c" stroke-width="0.4"/>
<text transform="translate(483.82,391.44) scale(0.77,1)" text-anchor="start" font-size="5.8" style="stroke-width:0.06" fill="#1a1a1a">0.23*</text>
<text transform="translate(401.08,399.28) scale(0.77,1)" text-anchor="end" font-size="6.4" style="stroke-width:0.1" fill="#1a1a1a">California</text>
<rect x="438.97" y="394.44" width="16.87" height="3.5" fill="url(#gf)" stroke="#c0463c" stroke-width="0.4"/>
<text transform="translate(436.87,398.55) scale(0.77,1)" text-anchor="end" font-size="5.8" style="stroke-width:0.06" fill="#1a1a1a">-0.15*</text>
<text transform="translate(401.12,406.47) scale(0.77,1)" text-anchor="end" font-size="6.4" style="stroke-width:0.1" fill="#1a1a1a">Greenland</text>
<rect x="449.12" y="401.62" width="6.74" height="3.5" fill="url(#gf)" stroke="#c0463c" stroke-width="0.4"/>
<text transform="translate(447.02,405.73) scale(0.77,1)" text-anchor="end" font-size="5.8" style="stroke-width:0.06" fill="#1a1a1a">-0.06</text>
<text transform="translate(401.16,413.62) scale(0.77,1)" text-anchor="end" font-size="6.4" style="stroke-width:0.1" fill="#1a1a1a">Canada</text>
<rect x="455.88" y="408.77" width="3.37" height="3.5" fill="url(#gf)" stroke="#c0463c" stroke-width="0.4"/>
<text transform="translate(461.35,412.88) scale(0.77,1)" text-anchor="start" font-size="5.8" style="stroke-width:0.06" fill="#1a1a1a">0.03</text>
<text transform="translate(401.2,420.74) scale(0.77,1)" text-anchor="end" font-size="6.4" style="stroke-width:0.1" fill="#1a1a1a">Uganda</text>
<rect x="453.66" y="415.89" width="2.24" height="3.5" fill="url(#gf)" stroke="#c0463c" stroke-width="0.4"/>
<text transform="translate(451.56,420) scale(0.77,1)" text-anchor="end" font-size="5.8" style="stroke-width:0.06" fill="#1a1a1a">-0.02</text>
<text transform="translate(97.9,519.5) scale(0.82,1)" text-anchor="start" font-size="9.31" font-weight="bold" letter-spacing="1.01" fill="#1a1a1a">MALE INCIDENCE 50-74 YEARS OLD</text>
<path d="M61.2 546.4H48.4V669.7H61.2" class="br"/>
<line x1="36.2" y1="608.3" x2="48.4" y2="608.3" class="tk"/>
<text transform="translate(30.9,610.67) scale(0.81,1)" text-anchor="end" font-size="7.25" fill="#1a1a1a">Asia</text>
<path d="M61.2 675.3H48.4V687H61.2" class="br"/>
<line x1="36.2" y1="681.4" x2="48.4" y2="681.4" class="tk"/>
<text transform="translate(30.9,683.77) scale(0.81,1)" text-anchor="end" font-size="7.25" fill="#1a1a1a">Australasia</text>
<path d="M61.2 692.3H48.4V710.6H61.2" class="br"/>
<line x1="36.2" y1="701.7" x2="48.4" y2="701.7" class="tk"/>
<text transform="translate(30.9,704.37) scale(0.81,1)" text-anchor="end" font-size="7.25" fill="#1a1a1a">Oceania</text>
<path d="M61.2 718H48.4V744.4H61.2" class="br"/>
<line x1="36.2" y1="730.9" x2="48.4" y2="730.9" class="tk"/>
<text transform="translate(17,730.97) scale(0.81,1)" text-anchor="middle" font-size="7.25" fill="#1a1a1a">Sub-Saharan</text>
<text transform="translate(17,739.07) scale(0.81,1)" text-anchor="middle" font-size="7.25" fill="#1a1a1a">Africa</text>
<path d="M61.2 755.5H48.4V813.4H61.2" class="br"/>
<line x1="36.2" y1="784.2" x2="48.4" y2="784.2" class="tk"/>
<text transform="translate(16,781.87) scale(0.81,1)" text-anchor="middle" font-size="7.25" fill="#1a1a1a">Middle East</text>
<text transform="translate(16,790.37) scale(0.81,1)" text-anchor="middle" font-size="7.25" fill="#1a1a1a">and</text>
<text transform="translate(16,798.67) scale(0.81,1)" text-anchor="middle" font-size="7.25" fill="#1a1a1a">North Africa</text>
<path d="M61.2 821.6H48.4V906.9H61.2" class="br"/>
<line x1="36.2" y1="864.6" x2="48.4" y2="864.6" class="tk"/>
<text transform="translate(30.9,869.57) scale(0.81,1)" text-anchor="end" font-size="7.25" fill="#1a1a1a">Europe</text>
<path d="M61.2 912H48.4V965.3H61.2" class="br"/>
<line x1="36.2" y1="938.9" x2="48.4" y2="938.9" class="tk"/>
<text transform="translate(30.9,941.27) scale(0.81,1)" text-anchor="end" font-size="7.25" fill="#1a1a1a">America</text>
<line x1="36.2" y1="973.9" x2="61.2" y2="973.9" class="br"/>
<text transform="translate(30.9,976.27) scale(0.81,1)" text-anchor="end" font-size="7.25" fill="#1a1a1a">Africa</text>
<text transform="translate(139.5,553.38) scale(0.85,1)" text-anchor="end" font-size="7.5" fill="#1a1a1a">Indonesia</text>
<rect x="234.8" y="548.42" width="25.34" height="4" fill="url(#gm)" stroke="#44549a" stroke-width="0.4"/>
<text transform="translate(263.14,553.26) scale(0.8,1)" text-anchor="start" font-size="7.2" fill="#1a1a1a">0.15*</text>
<text transform="translate(139.54,562.39) scale(0.85,1)" text-anchor="end" font-size="7.5" fill="#1a1a1a">Pakistan</text>
<rect x="211.18" y="557.44" width="23.62" height="4" fill="url(#gm)" stroke="#44549a" stroke-width="0.4"/>
<text transform="translate(208.18,562.27) scale(0.8,1)" text-anchor="end" font-size="7.2" fill="#1a1a1a">-0.14*</text>
<text transform="translate(139.59,571.36) scale(0.85,1)" text-anchor="end" font-size="7.5" fill="#1a1a1a">Bangladesh</text>
<rect x="214.58" y="566.4" width="20.22" height="4" fill="url(#gm)" stroke="#44549a" stroke-width="0.4"/>
<text transform="translate(211.58,571.24) scale(0.8,1)" text-anchor="end" font-size="7.2" fill="#1a1a1a">-0.12*</text>
<text transform="translate(139.63,580.27) scale(0.85,1)" text-anchor="end" font-size="7.5" fill="#1a1a1a">Sri Lanka</text>
<rect x="234.8" y="575.31" width="28.61" height="4" fill="url(#gm)" stroke="#44549a" stroke-width="0.4"/>
<text transform="translate(266.41,580.15) scale(0.8,1)" text-anchor="start" font-size="7.2" fill="#1a1a1a">0.17*</text>
<text transform="translate(139.68,589.21) scale(0.85,1)" text-anchor="end" font-size="7.5" fill="#1a1a1a">China</text>
<rect x="211.26" y="584.26" width="23.54" height="4" fill="url(#gm)" stroke="#44549a" stroke-width="0.4"/>
<text transform="translate(208.26,589.09) scale(0.8,1)" text-anchor="end" font-size="7.2" fill="#1a1a1a">-0.14*</text>
<text transform="translate(139.72,598.14) scale(0.85,1)" text-anchor="end" font-size="7.5" fill="#1a1a1a">Japan</text>
<rect x="216.33" y="593.19" width="18.47" height="4" fill="url(#gm)" stroke="#44549a" stroke-width="0.4"/>
<text transform="translate(213.33,598.02) scale(0.8,1)" text-anchor="end" font-size="7.2" fill="#1a1a1a">-0.11</text>
<text transform="translate(139.77,607.06) scale(0.85,1)" text-anchor="end" font-size="7.5" fill="#1a1a1a">Taiwan</text>
<rect x="211.32" y="602.1" width="23.48" height="4" fill="url(#gm)" stroke="#44549a" stroke-width="0.4"/>
<text transform="translate(208.32,606.94) scale(0.8,1)" text-anchor="end" font-size="7.2" fill="#1a1a1a">-0.14</text>
<text transform="translate(139.81,615.92) scale(0.85,1)" text-anchor="end" font-size="7.5" fill="#1a1a1a">Singapore</text>
<rect x="162.77" y="610.96" width="72.03" height="4" fill="url(#gm)" stroke="#44549a" stroke-width="0.4"/>
<text transform="translate(159.77,615.8) scale(0.8,1)" text-anchor="end" font-size="7.2" fill="#1a1a1a">-0.43</text>
<text transform="translate(139.86,624.81) scale(0.85,1)" text-anchor="end" font-size="7.5" fill="#1a1a1a">Thailand</text>
<rect x="187.95" y="619.85" width="46.85" height="4" fill="url(#gm)" stroke="#44549a" stroke-width="0.4"/>
<text transform="translate(184.95,624.69) scale(0.8,1)" text-anchor="end" font-size="7.2" fill="#1a1a1a">-0.28*</text>
<text transform="translate(139.9,633.62) scale(0.85,1)" text-anchor="end" font-size="7.5" fill="#1a1a1a">Malaysia</text>
<rect x="219.76" y="628.66" width="15.04" height="4" fill="url(#gm)" stroke="#44549a" stroke-width="0.4"/>
<text transform="translate(216.76,633.5) scale(0.8,1)" text-anchor="end" font-size="7.2" fill="#1a1a1a">-0.09</text>
<text transform="translate(139.95,642.55) scale(0.85,1)" text-anchor="end" font-size="7.5" fill="#1a1a1a">North Korea</text>
<rect x="234.15" y="637.3" width="1.3" height="4.6" fill="#26346e" opacity="0.9"/>
<text transform="translate(231.15,642.43) scale(0.8,1)" text-anchor="end" font-size="7.2" fill="#1a1a1a">0.00</text>
<text transform="translate(139.99,651.3) scale(0.85,1)" text-anchor="end" font-size="7.5" fill="#1a1a1a">South Korea</text>
<rect x="234.8" y="646.34" width="31.68" height="4" fill="url(#gm)" stroke="#44549a" stroke-width="0.4"/>
<text transform="translate(269.48,651.18) scale(0.8,1)" text-anchor="start" font-size="7.2" fill="#1a1a1a">0.19*</text>
<text transform="translate(140.04,660.17) scale(0.85,1)" text-anchor="end" font-size="7.5" fill="#1a1a1a">India</text>
<rect x="234.8" y="655.21" width="3.33" height="4" fill="url(#gm)" stroke="#44549a" stroke-width="0.4"/>
<text transform="translate(241.13,660.05) scale(0.8,1)" text-anchor="start" font-size="7.2" fill="#1a1a1a">0.02</text>
<text transform="translate(140.08,668.92) scale(0.85,1)" text-anchor="end" font-size="7.5" fill="#1a1a1a">Philippines</text>
<rect x="233.14" y="663.66" width="1.66" height="4.6" fill="#26346e" opacity="0.9"/>
<text transform="translate(230.14,668.8) scale(0.8,1)" text-anchor="end" font-size="7.2" fill="#1a1a1a">-0.01</text>
<text transform="translate(140.13,677.73) scale(0.85,1)" text-anchor="end" font-size="7.5" fill="#1a1a1a">New Zealand</text>
<rect x="196.6" y="672.78" width="38.2" height="4" fill="url(#gm)" stroke="#44549a" stroke-width="0.4"/>
<text transform="translate(193.6,677.61) scale(0.8,1)" text-anchor="end" font-size="7.2" fill="#1a1a1a">-0.23</text>
<text transform="translate(140.17,686.5) scale(0.85,1)" text-anchor="end" font-size="7.5" fill="#1a1a1a">Australia</text>
<rect x="178.39" y="681.55" width="56.41" height="4" fill="url(#gm)" stroke="#44549a" stroke-width="0.4"/>
<text transform="translate(175.39,686.38) scale(0.8,1)" text-anchor="end" font-size="7.2" fill="#1a1a1a">-0.34*</text>
<text transform="translate(140.22,695.22) scale(0.85,1)" text-anchor="end" font-size="7.5" fill="#1a1a1a">Cook Islands</text>
<rect x="209.94" y="690.26" width="24.86" height="4" fill="url(#gm)" stroke="#44549a" stroke-width="0.4"/>
<text transform="translate(206.94,695.09) scale(0.8,1)" text-anchor="end" font-size="7.2" fill="#1a1a1a">-0.15</text>
<text transform="translate(140.26,703.96) scale(0.85,1)" text-anchor="end" font-size="7.5" fill="#1a1a1a">Solomon Islands</text>
<rect x="205.01" y="699" width="29.79" height="4" fill="url(#gm)" stroke="#44549a" stroke-width="0.4"/>
<text transform="translate(202.01,703.84) scale(0.8,1)" text-anchor="end" font-size="7.2" fill="#1a1a1a">-0.18</text>
<text transform="translate(140.31,712.65) scale(0.85,1)" text-anchor="end" font-size="7.5" fill="#1a1a1a">Marshall Islands</text>
<rect x="186.86" y="707.69" width="47.94" height="4" fill="url(#gm)" stroke="#44549a" stroke-width="0.4"/>
<text transform="translate(183.86,712.52) scale(0.8,1)" text-anchor="end" font-size="7.2" fill="#1a1a1a">-0.29*</text>
<text transform="translate(140.35,721.42) scale(0.85,1)" text-anchor="end" font-size="7.5" fill="#1a1a1a">Southern Sub-Saharan Africa</text>
<rect x="234.8" y="716.16" width="1.65" height="4.6" fill="#26346e" opacity="0.9"/>
<text transform="translate(239.45,721.29) scale(0.8,1)" text-anchor="start" font-size="7.2" fill="#1a1a1a">0.01</text>
<text transform="translate(140.4,730.07) scale(0.85,1)" text-anchor="end" font-size="7.5" fill="#1a1a1a">Eastern Sub-Saharan Africa</text>
<rect x="233.15" y="724.81" width="1.65" height="4.6" fill="#26346e" opacity="0.9"/>
<text transform="translate(230.15,729.95) scale(0.8,1)" text-anchor="end" font-size="7.2" fill="#1a1a1a">-0.01</text>
<text transform="translate(140.44,738.73) scale(0.85,1)" text-anchor="end" font-size="7.5" fill="#1a1a1a">Western Sub-Saharan Africa</text>
<rect x="234.8" y="733.78" width="18.12" height="4" fill="url(#gm)" stroke="#44549a" stroke-width="0.4"/>
<text transform="translate(255.92,738.61) scale(0.8,1)" text-anchor="start" font-size="7.2" fill="#1a1a1a">0.11*</text>
<text transform="translate(140.49,747.43) scale(0.85,1)" text-anchor="end" font-size="7.5" fill="#1a1a1a">Central Sub-Saharan Africa</text>
<rect x="233.15" y="742.17" width="1.65" height="4.6" fill="#26346e" opacity="0.9"/>
<text transform="translate(230.15,747.3) scale(0.8,1)" text-anchor="end" font-size="7.2" fill="#1a1a1a">-0.01</text>
<text transform="translate(140.53,756.03) scale(0.85,1)" text-anchor="end" font-size="7.5" fill="#1a1a1a">Egypt</text>
<rect x="234.8" y="751.08" width="46" height="4" fill="url(#gm)" stroke="#44549a" stroke-width="0.4"/>
<text transform="translate(283.8,755.91) scale(0.8,1)" text-anchor="start" font-size="7.2" fill="#1a1a1a">0.28</text>
<text transform="translate(140.58,764.63) scale(0.85,1)" text-anchor="end" font-size="7.5" fill="#1a1a1a">Kuwait</text>
<rect x="234.8" y="759.67" width="26.26" height="4" fill="url(#gm)" stroke="#44549a" stroke-width="0.4"/>
<text transform="translate(264.06,764.5) scale(0.8,1)" text-anchor="start" font-size="7.2" fill="#1a1a1a">0.16</text>
<text transform="translate(140.62,773.31) scale(0.85,1)" text-anchor="end" font-size="7.5" fill="#1a1a1a">Bahrain</text>
<rect x="213.49" y="768.35" width="21.31" height="4" fill="url(#gm)" stroke="#44549a" stroke-width="0.4"/>
<text transform="translate(210.49,773.19) scale(0.8,1)" text-anchor="end" font-size="7.2" fill="#1a1a1a">-0.13</text>
<text transform="translate(140.67,781.88) scale(0.85,1)" text-anchor="end" font-size="7.5" fill="#1a1a1a">Morocco</text>
<rect x="234.8" y="776.92" width="52.38" height="4" fill="url(#gm)" stroke="#44549a" stroke-width="0.4"/>
<text transform="translate(290.18,781.76) scale(0.8,1)" text-anchor="start" font-size="7.2" fill="#1a1a1a">0.32*</text>
<text transform="translate(140.71,790.43) scale(0.85,1)" text-anchor="end" font-size="7.5" fill="#1a1a1a">Yemen</text>
<rect x="233.17" y="785.18" width="1.63" height="4.6" fill="#26346e" opacity="0.9"/>
<text transform="translate(230.17,790.31) scale(0.8,1)" text-anchor="end" font-size="7.2" fill="#1a1a1a">-0.01</text>
<text transform="translate(140.76,799.03) scale(0.85,1)" text-anchor="end" font-size="7.5" fill="#1a1a1a">Sudan</text>
<rect x="228.27" y="794.08" width="6.53" height="4" fill="url(#gm)" stroke="#44549a" stroke-width="0.4"/>
<text transform="translate(225.27,798.91) scale(0.8,1)" text-anchor="end" font-size="7.2" fill="#1a1a1a">-0.04</text>
<text transform="translate(140.8,807.59) scale(0.85,1)" text-anchor="end" font-size="7.5" fill="#1a1a1a">Qatar</text>
<rect x="231.54" y="802.64" width="3.26" height="4" fill="url(#gm)" stroke="#44549a" stroke-width="0.4"/>
<text transform="translate(228.54,807.47) scale(0.8,1)" text-anchor="end" font-size="7.2" fill="#1a1a1a">-0.02</text>
<text transform="translate(140.85,816.12) scale(0.85,1)" text-anchor="end" font-size="7.5" fill="#1a1a1a">Palestine</text>
<rect x="233.17" y="810.87" width="1.63" height="4.6" fill="#26346e" opacity="0.9"/>
<text transform="translate(230.17,816) scale(0.8,1)" text-anchor="end" font-size="7.2" fill="#1a1a1a">-0.01</text>
<text transform="translate(140.89,824.67) scale(0.85,1)" text-anchor="end" font-size="7.5" fill="#1a1a1a">Estonia</text>
<rect x="234.8" y="819.71" width="30.91" height="4" fill="url(#gm)" stroke="#44549a" stroke-width="0.4"/>
<text transform="translate(268.71,824.55) scale(0.8,1)" text-anchor="start" font-size="7.2" fill="#1a1a1a">0.19</text>
<text transform="translate(140.94,833.11) scale(0.85,1)" text-anchor="end" font-size="7.5" fill="#1a1a1a">Lithuania</text>
<rect x="216.93" y="828.16" width="17.87" height="4" fill="url(#gm)" stroke="#44549a" stroke-width="0.4"/>
<text transform="translate(213.93,832.99) scale(0.8,1)" text-anchor="end" font-size="7.2" fill="#1a1a1a">-0.11</text>
<text transform="translate(140.98,841.59) scale(0.85,1)" text-anchor="end" font-size="7.5" fill="#1a1a1a">Belarus</text>
<rect x="207.21" y="836.63" width="27.59" height="4" fill="url(#gm)" stroke="#44549a" stroke-width="0.4"/>
<text transform="translate(204.21,841.47) scale(0.8,1)" text-anchor="end" font-size="7.2" fill="#1a1a1a">-0.17</text>
<text transform="translate(141.03,850.07) scale(0.85,1)" text-anchor="end" font-size="7.5" fill="#1a1a1a">Netherlands</text>
<rect x="199.14" y="845.11" width="35.66" height="4" fill="url(#gm)" stroke="#44549a" stroke-width="0.4"/>
<text transform="translate(196.14,849.95) scale(0.8,1)" text-anchor="end" font-size="7.2" fill="#1a1a1a">-0.22*</text>
<text transform="translate(141.07,858.58) scale(0.85,1)" text-anchor="end" font-size="7.5" fill="#1a1a1a">Cyprus</text>
<rect x="208.9" y="853.62" width="25.9" height="4" fill="url(#gm)" stroke="#44549a" stroke-width="0.4"/>
<text transform="translate(205.9,858.46) scale(0.8,1)" text-anchor="end" font-size="7.2" fill="#1a1a1a">-0.16*</text>
<text transform="translate(141.12,867.02) scale(0.85,1)" text-anchor="end" font-size="7.5" fill="#1a1a1a">Belgium</text>
<rect x="205.7" y="862.06" width="29.1" height="4" fill="url(#gm)" stroke="#44549a" stroke-width="0.4"/>
<text transform="translate(202.7,866.9) scale(0.8,1)" text-anchor="end" font-size="7.2" fill="#1a1a1a">-0.18*</text>
<text transform="translate(141.16,875.41) scale(0.85,1)" text-anchor="end" font-size="7.5" fill="#1a1a1a">Austria</text>
<rect x="223.5" y="870.46" width="11.3" height="4" fill="url(#gm)" stroke="#44549a" stroke-width="0.4"/>
<text transform="translate(220.5,875.29) scale(0.8,1)" text-anchor="end" font-size="7.2" fill="#1a1a1a">-0.07</text>
<text transform="translate(141.21,883.88) scale(0.85,1)" text-anchor="end" font-size="7.5" fill="#1a1a1a">Hungary</text>
<rect x="234.8" y="878.93" width="35.48" height="4" fill="url(#gm)" stroke="#44549a" stroke-width="0.4"/>
<text transform="translate(273.28,883.76) scale(0.8,1)" text-anchor="start" font-size="7.2" fill="#1a1a1a">0.22</text>
<text transform="translate(141.25,892.26) scale(0.85,1)" text-anchor="end" font-size="7.5" fill="#1a1a1a">Poland</text>
<rect x="234.8" y="887.3" width="12.89" height="4" fill="url(#gm)" stroke="#44549a" stroke-width="0.4"/>
<text transform="translate(250.69,892.14) scale(0.8,1)" text-anchor="start" font-size="7.2" fill="#1a1a1a">0.08</text>
<text transform="translate(141.3,900.65) scale(0.85,1)" text-anchor="end" font-size="7.5" fill="#1a1a1a">Slovakia</text>
<rect x="234.8" y="895.7" width="30.57" height="4" fill="url(#gm)" stroke="#44549a" stroke-width="0.4"/>
<text transform="translate(268.37,900.53) scale(0.8,1)" text-anchor="start" font-size="7.2" fill="#1a1a1a">0.19*</text>
<text transform="translate(141.34,909.03) scale(0.85,1)" text-anchor="end" font-size="7.5" fill="#1a1a1a">Slovenia</text>
<rect x="234.8" y="904.07" width="4.82" height="4" fill="url(#gm)" stroke="#44549a" stroke-width="0.4"/>
<text transform="translate(242.62,908.9) scale(0.8,1)" text-anchor="start" font-size="7.2" fill="#1a1a1a">0.03</text>
<text transform="translate(141.39,917.39) scale(0.85,1)" text-anchor="end" font-size="7.5" fill="#1a1a1a">Uruguay</text>
<rect x="225.17" y="912.43" width="9.63" height="4" fill="url(#gm)" stroke="#44549a" stroke-width="0.4"/>
<text transform="translate(222.17,917.26) scale(0.8,1)" text-anchor="end" font-size="7.2" fill="#1a1a1a">-0.06</text>
<text transform="translate(141.43,925.73) scale(0.85,1)" text-anchor="end" font-size="7.5" fill="#1a1a1a">Argentina</text>
<rect x="231.59" y="920.78" width="3.21" height="4" fill="url(#gm)" stroke="#44549a" stroke-width="0.4"/>
<text transform="translate(228.59,925.61) scale(0.8,1)" text-anchor="end" font-size="7.2" fill="#1a1a1a">-0.02</text>
<text transform="translate(141.48,933.99) scale(0.85,1)" text-anchor="end" font-size="7.5" fill="#1a1a1a">Chile</text>
<rect x="202.78" y="929.04" width="32.02" height="4" fill="url(#gm)" stroke="#44549a" stroke-width="0.4"/>
<text transform="translate(199.78,933.87) scale(0.8,1)" text-anchor="end" font-size="7.2" fill="#1a1a1a">-0.20</text>
<text transform="translate(141.52,942.31) scale(0.85,1)" text-anchor="end" font-size="7.5" fill="#1a1a1a">US America</text>
<rect x="234.8" y="937.36" width="14.39" height="4" fill="url(#gm)" stroke="#44549a" stroke-width="0.4"/>
<text transform="translate(252.19,942.19) scale(0.8,1)" text-anchor="start" font-size="7.2" fill="#1a1a1a">0.09*</text>
<text transform="translate(141.57,950.62) scale(0.85,1)" text-anchor="end" font-size="7.5" fill="#1a1a1a">California</text>
<rect x="234.8" y="945.66" width="9.58" height="4" fill="url(#gm)" stroke="#44549a" stroke-width="0.4"/>
<text transform="translate(247.38,950.5) scale(0.8,1)" text-anchor="start" font-size="7.2" fill="#1a1a1a">0.06</text>
<text transform="translate(141.61,958.85) scale(0.85,1)" text-anchor="end" font-size="7.5" fill="#1a1a1a">Greenland</text>
<rect x="234.8" y="953.6" width="1.59" height="4.6" fill="#26346e" opacity="0.9"/>
<text transform="translate(239.39,958.73) scale(0.8,1)" text-anchor="start" font-size="7.2" fill="#1a1a1a">0.01</text>
<text transform="translate(141.66,967.14) scale(0.85,1)" text-anchor="end" font-size="7.5" fill="#1a1a1a">Canada</text>
<rect x="234.8" y="962.18" width="4.78" height="4" fill="url(#gm)" stroke="#44549a" stroke-width="0.4"/>
<text transform="translate(242.58,967.01) scale(0.8,1)" text-anchor="start" font-size="7.2" fill="#1a1a1a">0.03</text>
<text transform="translate(141.7,975.41) scale(0.85,1)" text-anchor="end" font-size="7.5" fill="#1a1a1a">Uganda</text>
<rect x="228.44" y="970.45" width="6.36" height="4" fill="url(#gm)" stroke="#44549a" stroke-width="0.4"/>
<text transform="translate(225.44,975.28) scale(0.8,1)" text-anchor="end" font-size="7.2" fill="#1a1a1a">-0.04</text>
<text transform="translate(434.6,519.6) scale(0.82,1)" text-anchor="start" font-size="9.31" font-weight="bold" letter-spacing="1.02" fill="#1a1a1a">FEMALE INCIDENCE 50-74 YEARS OLD</text>
<path d="M398.2 546.4H385.4V669.7H398.2" class="br"/>
<line x1="373.2" y1="608.3" x2="385.4" y2="608.3" class="tk"/>
<text transform="translate(368.3,610.67) scale(0.81,1)" text-anchor="end" font-size="7.25" fill="#1a1a1a">Asia</text>
<path d="M398.2 675.3H385.4V687.2H398.2" class="br"/>
<line x1="373.2" y1="681.4" x2="385.4" y2="681.4" class="tk"/>
<text transform="translate(368.3,683.77) scale(0.81,1)" text-anchor="end" font-size="7.25" fill="#1a1a1a">Australasia</text>
<path d="M398.2 692.3H385.4V711H398.2" class="br"/>
<line x1="373.2" y1="701.7" x2="385.4" y2="701.7" class="tk"/>
<text transform="translate(368.3,704.37) scale(0.81,1)" text-anchor="end" font-size="7.25" fill="#1a1a1a">Oceania</text>
<path d="M398.2 719.7H385.4V746.1H398.2" class="br"/>
<line x1="373.2" y1="732.8" x2="385.4" y2="732.8" class="tk"/>
<text transform="translate(354.3,730.97) scale(0.81,1)" text-anchor="middle" font-size="7.25" fill="#1a1a1a">Sub-Saharan</text>
<text transform="translate(354.3,739.07) scale(0.81,1)" text-anchor="middle" font-size="7.25" fill="#1a1a1a">Africa</text>
<path d="M398.2 756H385.4V813.4H398.2" class="br"/>
<line x1="373.2" y1="784.7" x2="385.4" y2="784.7" class="tk"/>
<text transform="translate(353.4,781.97) scale(0.81,1)" text-anchor="middle" font-size="7.25" fill="#1a1a1a">Middle East</text>
<text transform="translate(353.4,790.17) scale(0.81,1)" text-anchor="middle" font-size="7.25" fill="#1a1a1a">and</text>
<text transform="translate(353.4,798.37) scale(0.81,1)" text-anchor="middle" font-size="7.25" fill="#1a1a1a">North Africa</text>
<path d="M398.2 821.6H385.4V907.3H398.2" class="br"/>
<line x1="373.2" y1="864.6" x2="385.4" y2="864.6" class="tk"/>
<text transform="translate(368.3,869.37) scale(0.81,1)" text-anchor="end" font-size="7.25" fill="#1a1a1a">Europe</text>
<path d="M398.2 912.5H385.4V967.6H398.2" class="br"/>
<line x1="373.2" y1="940" x2="385.4" y2="940" class="tk"/>
<text transform="translate(368.3,941.87) scale(0.81,1)" text-anchor="end" font-size="7.25" fill="#1a1a1a">America</text>
<line x1="373.2" y1="974.4" x2="398.2" y2="974.4" class="br"/>
<text transform="translate(368.3,976.77) scale(0.81,1)" text-anchor="end" font-size="7.25" fill="#1a1a1a">Africa</text>
<text transform="translate(475.9,555.16) scale(0.85,1)" text-anchor="end" font-size="7.5" fill="#1a1a1a">Indonesia</text>
<rect x="585.5" y="550.21" width="19.48" height="4" fill="url(#gf)" stroke="#c0463c" stroke-width="0.4"/>
<text transform="translate(607.98,555.04) scale(0.8,1)" text-anchor="start" font-size="7.2" fill="#1a1a1a">0.10*</text>
<text transform="translate(475.96,564.21) scale(0.85,1)" text-anchor="end" font-size="7.5" fill="#1a1a1a">Pakistan</text>
<rect x="573.82" y="559.26" width="11.68" height="4" fill="url(#gf)" stroke="#c0463c" stroke-width="0.4"/>
<text transform="translate(570.82,564.09) scale(0.8,1)" text-anchor="end" font-size="7.2" fill="#1a1a1a">-0.06*</text>
<text transform="translate(476.01,573.17) scale(0.85,1)" text-anchor="end" font-size="7.5" fill="#1a1a1a">Bangladesh</text>
<rect x="585.5" y="568.22" width="9.73" height="4" fill="url(#gf)" stroke="#c0463c" stroke-width="0.4"/>
<text transform="translate(598.23,573.05) scale(0.8,1)" text-anchor="start" font-size="7.2" fill="#1a1a1a">0.05</text>
<text transform="translate(476.07,582.08) scale(0.85,1)" text-anchor="end" font-size="7.5" fill="#1a1a1a">Sri Lanka</text>
<rect x="585.5" y="577.12" width="25.27" height="4" fill="url(#gf)" stroke="#c0463c" stroke-width="0.4"/>
<text transform="translate(613.77,581.95) scale(0.8,1)" text-anchor="start" font-size="7.2" fill="#1a1a1a">0.13</text>
<text transform="translate(476.13,591.09) scale(0.85,1)" text-anchor="end" font-size="7.5" fill="#1a1a1a">China</text>
<rect x="535.01" y="586.13" width="50.49" height="4" fill="url(#gf)" stroke="#c0463c" stroke-width="0.4"/>
<text transform="translate(532.01,590.96) scale(0.8,1)" text-anchor="end" font-size="7.2" fill="#1a1a1a">-0.26*</text>
<text transform="translate(476.19,599.93) scale(0.85,1)" text-anchor="end" font-size="7.5" fill="#1a1a1a">Japan</text>
<rect x="550.57" y="594.98" width="34.93" height="4" fill="url(#gf)" stroke="#c0463c" stroke-width="0.4"/>
<text transform="translate(547.57,599.81) scale(0.8,1)" text-anchor="end" font-size="7.2" fill="#1a1a1a">-0.18*</text>
<text transform="translate(476.24,608.9) scale(0.85,1)" text-anchor="end" font-size="7.5" fill="#1a1a1a">Taiwan</text>
<rect x="517.64" y="603.95" width="67.86" height="4" fill="url(#gf)" stroke="#c0463c" stroke-width="0.4"/>
<text transform="translate(514.64,608.78) scale(0.8,1)" text-anchor="end" font-size="7.2" fill="#1a1a1a">-0.35*</text>
<text transform="translate(476.3,617.75) scale(0.85,1)" text-anchor="end" font-size="7.5" fill="#1a1a1a">Singapore</text>
<rect x="506.07" y="612.8" width="79.43" height="4" fill="url(#gf)" stroke="#c0463c" stroke-width="0.4"/>
<text transform="translate(503.07,617.63) scale(0.8,1)" text-anchor="end" font-size="7.2" fill="#1a1a1a">-0.41*</text>
<text transform="translate(476.36,626.6) scale(0.85,1)" text-anchor="end" font-size="7.5" fill="#1a1a1a">Thailand</text>
<rect x="550.66" y="621.65" width="34.84" height="4" fill="url(#gf)" stroke="#c0463c" stroke-width="0.4"/>
<text transform="translate(547.66,626.48) scale(0.8,1)" text-anchor="end" font-size="7.2" fill="#1a1a1a">-0.18*</text>
<text transform="translate(476.41,635.53) scale(0.85,1)" text-anchor="end" font-size="7.5" fill="#1a1a1a">Malaysia</text>
<rect x="585.5" y="630.58" width="1.93" height="4" fill="url(#gf)" stroke="#c0463c" stroke-width="0.4"/>
<text transform="translate(590.43,635.41) scale(0.8,1)" text-anchor="start" font-size="7.2" fill="#1a1a1a">0.01</text>
<text transform="translate(476.47,644.36) scale(0.85,1)" text-anchor="end" font-size="7.5" fill="#1a1a1a">North Korea</text>
<rect x="542.98" y="639.4" width="42.52" height="4" fill="url(#gf)" stroke="#c0463c" stroke-width="0.4"/>
<text transform="translate(539.98,644.23) scale(0.8,1)" text-anchor="end" font-size="7.2" fill="#1a1a1a">-0.22*</text>
<text transform="translate(476.53,653.15) scale(0.85,1)" text-anchor="end" font-size="7.5" fill="#1a1a1a">South Korea</text>
<rect x="579.71" y="648.2" width="5.79" height="4" fill="url(#gf)" stroke="#c0463c" stroke-width="0.4"/>
<text transform="translate(576.71,653.03) scale(0.8,1)" text-anchor="end" font-size="7.2" fill="#1a1a1a">-0.03</text>
<text transform="translate(476.59,662.04) scale(0.85,1)" text-anchor="end" font-size="7.5" fill="#1a1a1a">India</text>
<rect x="585.5" y="657.09" width="3.86" height="4" fill="url(#gf)" stroke="#c0463c" stroke-width="0.4"/>
<text transform="translate(592.36,661.92) scale(0.8,1)" text-anchor="start" font-size="7.2" fill="#1a1a1a">0.02</text>
<text transform="translate(476.64,670.78) scale(0.85,1)" text-anchor="end" font-size="7.5" fill="#1a1a1a">Philippines</text>
<rect x="545.01" y="665.83" width="40.49" height="4" fill="url(#gf)" stroke="#c0463c" stroke-width="0.4"/>
<text transform="translate(542.01,670.66) scale(0.8,1)" text-anchor="end" font-size="7.2" fill="#1a1a1a">-0.21*</text>
<text transform="translate(476.7,679.56) scale(0.85,1)" text-anchor="end" font-size="7.5" fill="#1a1a1a">New Zealand</text>
<rect x="566.24" y="674.6" width="19.26" height="4" fill="url(#gf)" stroke="#c0463c" stroke-width="0.4"/>
<text transform="translate(563.24,679.43) scale(0.8,1)" text-anchor="end" font-size="7.2" fill="#1a1a1a">-0.10*</text>
<text transform="translate(476.76,688.34) scale(0.85,1)" text-anchor="end" font-size="7.5" fill="#1a1a1a">Australia</text>
<rect x="554.7" y="683.39" width="30.8" height="4" fill="url(#gf)" stroke="#c0463c" stroke-width="0.4"/>
<text transform="translate(551.7,688.22) scale(0.8,1)" text-anchor="end" font-size="7.2" fill="#1a1a1a">-0.16</text>
<text transform="translate(476.81,697.07) scale(0.85,1)" text-anchor="end" font-size="7.5" fill="#1a1a1a">Cook Islands</text>
<rect x="543.19" y="692.12" width="42.31" height="4" fill="url(#gf)" stroke="#c0463c" stroke-width="0.4"/>
<text transform="translate(540.19,696.95) scale(0.8,1)" text-anchor="end" font-size="7.2" fill="#1a1a1a">-0.22*</text>
<text transform="translate(476.87,705.81) scale(0.85,1)" text-anchor="end" font-size="7.5" fill="#1a1a1a">Solomon Islands</text>
<rect x="562.44" y="700.85" width="23.06" height="4" fill="url(#gf)" stroke="#c0463c" stroke-width="0.4"/>
<text transform="translate(559.44,705.68) scale(0.8,1)" text-anchor="end" font-size="7.2" fill="#1a1a1a">-0.12*</text>
<text transform="translate(476.93,714.54) scale(0.85,1)" text-anchor="end" font-size="7.5" fill="#1a1a1a">Marshall Islands</text>
<rect x="533.66" y="709.59" width="51.84" height="4" fill="url(#gf)" stroke="#c0463c" stroke-width="0.4"/>
<text transform="translate(530.66,714.42) scale(0.8,1)" text-anchor="end" font-size="7.2" fill="#1a1a1a">-0.27*</text>
<text transform="translate(476.99,723.28) scale(0.85,1)" text-anchor="end" font-size="7.5" fill="#1a1a1a">Southern Sub-Saharan Africa</text>
<rect x="585.5" y="718.32" width="7.67" height="4" fill="url(#gf)" stroke="#c0463c" stroke-width="0.4"/>
<text transform="translate(596.17,723.15) scale(0.8,1)" text-anchor="start" font-size="7.2" fill="#1a1a1a">0.04</text>
<text transform="translate(477.04,732.05) scale(0.85,1)" text-anchor="end" font-size="7.5" fill="#1a1a1a">Eastern Sub-Saharan Africa</text>
<rect x="585.5" y="727.09" width="3.83" height="4" fill="url(#gf)" stroke="#c0463c" stroke-width="0.4"/>
<text transform="translate(592.33,731.92) scale(0.8,1)" text-anchor="start" font-size="7.2" fill="#1a1a1a">0.02</text>
<text transform="translate(477.1,740.66) scale(0.85,1)" text-anchor="end" font-size="7.5" fill="#1a1a1a">Western Sub-Saharan Africa</text>
<rect x="585.5" y="735.71" width="22.99" height="4" fill="url(#gf)" stroke="#c0463c" stroke-width="0.4"/>
<text transform="translate(611.49,740.54) scale(0.8,1)" text-anchor="start" font-size="7.2" fill="#1a1a1a">0.12*</text>
<text transform="translate(477.16,749.33) scale(0.85,1)" text-anchor="end" font-size="7.5" fill="#1a1a1a">Central Sub-Saharan Africa</text>
<rect x="585.5" y="744.37" width="13.4" height="4" fill="url(#gf)" stroke="#c0463c" stroke-width="0.4"/>
<text transform="translate(601.9,749.21) scale(0.8,1)" text-anchor="start" font-size="7.2" fill="#1a1a1a">0.07</text>
<text transform="translate(477.21,757.94) scale(0.85,1)" text-anchor="end" font-size="7.5" fill="#1a1a1a">Egypt</text>
<rect x="585.5" y="752.98" width="89.88" height="4" fill="url(#gf)" stroke="#c0463c" stroke-width="0.4"/>
<text transform="translate(670.1,750.43) scale(0.8,1)" text-anchor="start" font-size="7.2" fill="#1a1a1a">0.47*</text>
<text transform="translate(477.27,766.62) scale(0.85,1)" text-anchor="end" font-size="7.5" fill="#1a1a1a">Kuwait</text>
<rect x="585.5" y="761.67" width="49.68" height="4" fill="url(#gf)" stroke="#c0463c" stroke-width="0.4"/>
<text transform="translate(638.18,766.5) scale(0.8,1)" text-anchor="start" font-size="7.2" fill="#1a1a1a">0.26*</text>
<text transform="translate(477.33,775.21) scale(0.85,1)" text-anchor="end" font-size="7.5" fill="#1a1a1a">Bahrain</text>
<rect x="585.5" y="770.25" width="7.64" height="4" fill="url(#gf)" stroke="#c0463c" stroke-width="0.4"/>
<text transform="translate(596.14,775.08) scale(0.8,1)" text-anchor="start" font-size="7.2" fill="#1a1a1a">0.04</text>
<text transform="translate(477.39,783.8) scale(0.85,1)" text-anchor="end" font-size="7.5" fill="#1a1a1a">Morocco</text>
<rect x="585.5" y="778.85" width="91.57" height="4" fill="url(#gf)" stroke="#c0463c" stroke-width="0.4"/>
<text transform="translate(670.1,777.03) scale(0.8,1)" text-anchor="start" font-size="7.2" fill="#1a1a1a">0.48*</text>
<text transform="translate(477.44,792.4) scale(0.85,1)" text-anchor="end" font-size="7.5" fill="#1a1a1a">Yemen</text>
<rect x="583.59" y="787.45" width="1.91" height="4" fill="url(#gf)" stroke="#c0463c" stroke-width="0.4"/>
<text transform="translate(580.59,792.28) scale(0.8,1)" text-anchor="end" font-size="7.2" fill="#1a1a1a">-0.01</text>
<text transform="translate(477.5,800.94) scale(0.85,1)" text-anchor="end" font-size="7.5" fill="#1a1a1a">Sudan</text>
<rect x="581.69" y="795.99" width="3.81" height="4" fill="url(#gf)" stroke="#c0463c" stroke-width="0.4"/>
<text transform="translate(578.69,800.82) scale(0.8,1)" text-anchor="end" font-size="7.2" fill="#1a1a1a">-0.02</text>
<text transform="translate(477.56,809.47) scale(0.85,1)" text-anchor="end" font-size="7.5" fill="#1a1a1a">Qatar</text>
<rect x="585.5" y="804.52" width="20.93" height="4" fill="url(#gf)" stroke="#c0463c" stroke-width="0.4"/>
<text transform="translate(609.43,809.35) scale(0.8,1)" text-anchor="start" font-size="7.2" fill="#1a1a1a">0.11</text>
<text transform="translate(477.61,818.03) scale(0.85,1)" text-anchor="end" font-size="7.5" fill="#1a1a1a">Palestine</text>
<rect x="585.5" y="813.08" width="20.92" height="4" fill="url(#gf)" stroke="#c0463c" stroke-width="0.4"/>
<text transform="translate(609.42,817.91) scale(0.8,1)" text-anchor="start" font-size="7.2" fill="#1a1a1a">0.11</text>
<text transform="translate(477.67,826.52) scale(0.85,1)" text-anchor="end" font-size="7.5" fill="#1a1a1a">Estonia</text>
<rect x="585.5" y="821.56" width="74.09" height="4" fill="url(#gf)" stroke="#c0463c" stroke-width="0.4"/>
<text transform="translate(662.59,826.4) scale(0.8,1)" text-anchor="start" font-size="7.2" fill="#1a1a1a">0.39*</text>
<text transform="translate(477.73,835.05) scale(0.85,1)" text-anchor="end" font-size="7.5" fill="#1a1a1a">Lithuania</text>
<rect x="562.72" y="830.1" width="22.78" height="4" fill="url(#gf)" stroke="#c0463c" stroke-width="0.4"/>
<text transform="translate(559.72,834.93) scale(0.8,1)" text-anchor="end" font-size="7.2" fill="#1a1a1a">-0.12</text>
<text transform="translate(477.79,843.53) scale(0.85,1)" text-anchor="end" font-size="7.5" fill="#1a1a1a">Belarus</text>
<rect x="543.77" y="838.57" width="41.73" height="4" fill="url(#gf)" stroke="#c0463c" stroke-width="0.4"/>
<text transform="translate(540.77,843.41) scale(0.8,1)" text-anchor="end" font-size="7.2" fill="#1a1a1a">-0.22*</text>
<text transform="translate(477.84,852.04) scale(0.85,1)" text-anchor="end" font-size="7.5" fill="#1a1a1a">Netherlands</text>
<rect x="585.5" y="847.08" width="37.9" height="4" fill="url(#gf)" stroke="#c0463c" stroke-width="0.4"/>
<text transform="translate(626.4,851.91) scale(0.8,1)" text-anchor="start" font-size="7.2" fill="#1a1a1a">0.20</text>
<text transform="translate(477.9,860.49) scale(0.85,1)" text-anchor="end" font-size="7.5" fill="#1a1a1a">Cyprus</text>
<rect x="566.56" y="855.53" width="18.94" height="4" fill="url(#gf)" stroke="#c0463c" stroke-width="0.4"/>
<text transform="translate(563.56,860.36) scale(0.8,1)" text-anchor="end" font-size="7.2" fill="#1a1a1a">-0.10</text>
<text transform="translate(477.96,868.91) scale(0.85,1)" text-anchor="end" font-size="7.5" fill="#1a1a1a">Belgium</text>
<rect x="585.5" y="863.95" width="34.06" height="4" fill="url(#gf)" stroke="#c0463c" stroke-width="0.4"/>
<text transform="translate(622.56,868.78) scale(0.8,1)" text-anchor="start" font-size="7.2" fill="#1a1a1a">0.18</text>
<text transform="translate(478.01,877.33) scale(0.85,1)" text-anchor="end" font-size="7.5" fill="#1a1a1a">Austria</text>
<rect x="585.5" y="872.37" width="22.69" height="4" fill="url(#gf)" stroke="#c0463c" stroke-width="0.4"/>
<text transform="translate(611.19,877.21) scale(0.8,1)" text-anchor="start" font-size="7.2" fill="#1a1a1a">0.12</text>
<text transform="translate(478.07,885.72) scale(0.85,1)" text-anchor="end" font-size="7.5" fill="#1a1a1a">Hungary</text>
<rect x="585.5" y="880.76" width="60.45" height="4" fill="url(#gf)" stroke="#c0463c" stroke-width="0.4"/>
<text transform="translate(648.95,885.59) scale(0.8,1)" text-anchor="start" font-size="7.2" fill="#1a1a1a">0.32*</text>
<text transform="translate(478.13,894.16) scale(0.85,1)" text-anchor="end" font-size="7.5" fill="#1a1a1a">Poland</text>
<rect x="585.5" y="889.2" width="16.99" height="4" fill="url(#gf)" stroke="#c0463c" stroke-width="0.4"/>
<text transform="translate(605.49,894.03) scale(0.8,1)" text-anchor="start" font-size="7.2" fill="#1a1a1a">0.09*</text>
<text transform="translate(478.19,902.52) scale(0.85,1)" text-anchor="end" font-size="7.5" fill="#1a1a1a">Slovakia</text>
<rect x="585.5" y="897.56" width="43.37" height="4" fill="url(#gf)" stroke="#c0463c" stroke-width="0.4"/>
<text transform="translate(631.87,902.39) scale(0.8,1)" text-anchor="start" font-size="7.2" fill="#1a1a1a">0.23*</text>
<text transform="translate(478.24,910.92) scale(0.85,1)" text-anchor="end" font-size="7.5" fill="#1a1a1a">Slovenia</text>
<rect x="585.5" y="905.96" width="22.61" height="4" fill="url(#gf)" stroke="#c0463c" stroke-width="0.4"/>
<text transform="translate(611.11,910.79) scale(0.8,1)" text-anchor="start" font-size="7.2" fill="#1a1a1a">0.12</text>
<text transform="translate(478.3,919.27) scale(0.85,1)" text-anchor="end" font-size="7.5" fill="#1a1a1a">Uruguay</text>
<rect x="585.5" y="914.32" width="24.48" height="4" fill="url(#gf)" stroke="#c0463c" stroke-width="0.4"/>
<text transform="translate(612.98,919.15) scale(0.8,1)" text-anchor="start" font-size="7.2" fill="#1a1a1a">0.13</text>
<text transform="translate(478.36,927.62) scale(0.85,1)" text-anchor="end" font-size="7.5" fill="#1a1a1a">Argentina</text>
<rect x="585.5" y="922.66" width="22.57" height="4" fill="url(#gf)" stroke="#c0463c" stroke-width="0.4"/>
<text transform="translate(611.07,927.49) scale(0.8,1)" text-anchor="start" font-size="7.2" fill="#1a1a1a">0.12</text>
<text transform="translate(478.41,935.9) scale(0.85,1)" text-anchor="end" font-size="7.5" fill="#1a1a1a">Chile</text>
<rect x="568.58" y="930.94" width="16.92" height="4" fill="url(#gf)" stroke="#c0463c" stroke-width="0.4"/>
<text transform="translate(565.58,935.78) scale(0.8,1)" text-anchor="end" font-size="7.2" fill="#1a1a1a">-0.09</text>
<text transform="translate(478.47,944.22) scale(0.85,1)" text-anchor="end" font-size="7.5" fill="#1a1a1a">US America</text>
<rect x="585.5" y="939.26" width="33.8" height="4" fill="url(#gf)" stroke="#c0463c" stroke-width="0.4"/>
<text transform="translate(622.3,944.09) scale(0.8,1)" text-anchor="start" font-size="7.2" fill="#1a1a1a">0.18*</text>
<text transform="translate(478.53,952.46) scale(0.85,1)" text-anchor="end" font-size="7.5" fill="#1a1a1a">California</text>
<rect x="585.5" y="947.5" width="30.02" height="4" fill="url(#gf)" stroke="#c0463c" stroke-width="0.4"/>
<text transform="translate(618.52,952.34) scale(0.8,1)" text-anchor="start" font-size="7.2" fill="#1a1a1a">0.16*</text>
<text transform="translate(478.59,960.75) scale(0.85,1)" text-anchor="end" font-size="7.5" fill="#1a1a1a">Greenland</text>
<rect x="564.88" y="955.79" width="20.62" height="4" fill="url(#gf)" stroke="#c0463c" stroke-width="0.4"/>
<text transform="translate(561.88,960.63) scale(0.8,1)" text-anchor="end" font-size="7.2" fill="#1a1a1a">-0.11*</text>
<text transform="translate(478.64,968.98) scale(0.85,1)" text-anchor="end" font-size="7.5" fill="#1a1a1a">Canada</text>
<rect x="585.5" y="964.03" width="16.86" height="4" fill="url(#gf)" stroke="#c0463c" stroke-width="0.4"/>
<text transform="translate(605.36,968.86) scale(0.8,1)" text-anchor="start" font-size="7.2" fill="#1a1a1a">0.09</text>
<text transform="translate(478.7,977.2) scale(0.85,1)" text-anchor="end" font-size="7.5" fill="#1a1a1a">Uganda</text>
<rect x="578.01" y="972.24" width="7.49" height="4" fill="url(#gf)" stroke="#c0463c" stroke-width="0.4"/>
<text transform="translate(575.01,977.08) scale(0.8,1)" text-anchor="end" font-size="7.2" fill="#1a1a1a">-0.04</text>
<text transform="translate(106.6,1033.1) scale(0.82,1)" text-anchor="start" font-size="9.31" font-weight="bold" letter-spacing="1.01" fill="#1a1a1a">MALE INCIDENCE 75+ YEARS OLD</text>
<path d="M76.9 1064.1H64.5V1192.7H76.9" class="br"/>
<line x1="52.1" y1="1128.4" x2="64.5" y2="1128.4" class="tk"/>
<text transform="translate(47.3,1130.77) scale(0.81,1)" text-anchor="end" font-size="7.25" fill="#1a1a1a">Asia</text>
<path d="M76.9 1198.9H64.5V1211.3H76.9" class="br"/>
<line x1="52.1" y1="1205.1" x2="64.5" y2="1205.1" class="tk"/>
<text transform="translate(47.3,1207.17) scale(0.81,1)" text-anchor="end" font-size="7.25" fill="#1a1a1a">Australasia</text>
<path d="M76.9 1218.8H64.5V1237.4H76.9" class="br"/>
<line x1="52.1" y1="1228" x2="64.5" y2="1228" class="tk"/>
<text transform="translate(47.3,1230.07) scale(0.81,1)" text-anchor="end" font-size="7.25" fill="#1a1a1a">Oceania</text>
<path d="M76.9 1244.3H64.5V1272.1H76.9" class="br"/>
<line x1="52.1" y1="1258" x2="64.5" y2="1258" class="tk"/>
<text transform="translate(32.9,1256.67) scale(0.81,1)" text-anchor="middle" font-size="7.25" fill="#1a1a1a">Sub-Saharan</text>
<text transform="translate(32.9,1265.37) scale(0.81,1)" text-anchor="middle" font-size="7.25" fill="#1a1a1a">Africa</text>
<path d="M76.9 1281.2H64.5V1349.9H76.9" class="br"/>
<line x1="52.1" y1="1315.4" x2="64.5" y2="1315.4" class="tk"/>
<text transform="translate(32.3,1310.37) scale(0.81,1)" text-anchor="middle" font-size="7.25" fill="#1a1a1a">Middle East</text>
<text transform="translate(32.3,1319.07) scale(0.81,1)" text-anchor="middle" font-size="7.25" fill="#1a1a1a">and</text>
<text transform="translate(32.3,1328.17) scale(0.81,1)" text-anchor="middle" font-size="7.25" fill="#1a1a1a">North Africa</text>
<path d="M76.9 1359.4H64.5V1441.3H76.9" class="br"/>
<line x1="52.1" y1="1400.3" x2="64.5" y2="1400.3" class="tk"/>
<text transform="translate(47.3,1403.37) scale(0.81,1)" text-anchor="end" font-size="7.25" fill="#1a1a1a">Europe</text>
<path d="M76.9 1447.5H64.5V1503.3H76.9" class="br"/>
<line x1="52.1" y1="1475.3" x2="64.5" y2="1475.3" class="tk"/>
<text transform="translate(47.3,1477.67) scale(0.81,1)" text-anchor="end" font-size="7.25" fill="#1a1a1a">America</text>
<line x1="52.1" y1="1512" x2="76.9" y2="1512" class="br"/>
<text transform="translate(47.3,1514.37) scale(0.81,1)" text-anchor="end" font-size="7.25" fill="#1a1a1a">Africa</text>
<text transform="translate(154.3,1070.98) scale(0.85,1)" text-anchor="end" font-size="7.5" fill="#1a1a1a">Indonesia</text>
<rect x="219" y="1065.92" width="25.86" height="4.2" fill="url(#gm)" stroke="#44549a" stroke-width="0.4"/>
<text transform="translate(247.86,1070.86) scale(0.8,1)" text-anchor="start" font-size="7.2" fill="#1a1a1a">0.15*</text>
<text transform="translate(154.36,1080.49) scale(0.85,1)" text-anchor="end" font-size="7.5" fill="#1a1a1a">Pakistan</text>
<rect x="215.56" y="1075.43" width="3.44" height="4.2" fill="url(#gm)" stroke="#44549a" stroke-width="0.4"/>
<text transform="translate(212.56,1080.37) scale(0.8,1)" text-anchor="end" font-size="7.2" fill="#1a1a1a">-0.02</text>
<text transform="translate(154.41,1089.87) scale(0.85,1)" text-anchor="end" font-size="7.5" fill="#1a1a1a">Bangladesh</text>
<rect x="206.95" y="1084.81" width="12.05" height="4.2" fill="url(#gm)" stroke="#44549a" stroke-width="0.4"/>
<text transform="translate(203.95,1089.74) scale(0.8,1)" text-anchor="end" font-size="7.2" fill="#1a1a1a">-0.07</text>
<text transform="translate(154.47,1099.29) scale(0.85,1)" text-anchor="end" font-size="7.5" fill="#1a1a1a">Sri Lanka</text>
<rect x="219" y="1094.24" width="41.27" height="4.2" fill="url(#gm)" stroke="#44549a" stroke-width="0.4"/>
<text transform="translate(263.27,1099.17) scale(0.8,1)" text-anchor="start" font-size="7.2" fill="#1a1a1a">0.24*</text>
<text transform="translate(154.53,1108.66) scale(0.85,1)" text-anchor="end" font-size="7.5" fill="#1a1a1a">China</text>
<rect x="208.69" y="1103.6" width="10.31" height="4.2" fill="url(#gm)" stroke="#44549a" stroke-width="0.4"/>
<text transform="translate(205.69,1108.54) scale(0.8,1)" text-anchor="end" font-size="7.2" fill="#1a1a1a">-0.06*</text>
<text transform="translate(154.59,1118.1) scale(0.85,1)" text-anchor="end" font-size="7.5" fill="#1a1a1a">Japan</text>
<rect x="219" y="1113.04" width="15.45" height="4.2" fill="url(#gm)" stroke="#44549a" stroke-width="0.4"/>
<text transform="translate(237.45,1117.98) scale(0.8,1)" text-anchor="start" font-size="7.2" fill="#1a1a1a">0.09*</text>
<text transform="translate(154.64,1127.42) scale(0.85,1)" text-anchor="end" font-size="7.5" fill="#1a1a1a">Taiwan</text>
<rect x="219" y="1122.37" width="24.02" height="4.2" fill="url(#gm)" stroke="#44549a" stroke-width="0.4"/>
<text transform="translate(246.02,1127.3) scale(0.8,1)" text-anchor="start" font-size="7.2" fill="#1a1a1a">0.14</text>
<text transform="translate(154.7,1136.81) scale(0.85,1)" text-anchor="end" font-size="7.5" fill="#1a1a1a">Singapore</text>
<rect x="177.86" y="1131.75" width="41.14" height="4.2" fill="url(#gm)" stroke="#44549a" stroke-width="0.4"/>
<text transform="translate(174.86,1136.69) scale(0.8,1)" text-anchor="end" font-size="7.2" fill="#1a1a1a">-0.24*</text>
<text transform="translate(154.76,1146.15) scale(0.85,1)" text-anchor="end" font-size="7.5" fill="#1a1a1a">Thailand</text>
<rect x="200.16" y="1141.1" width="18.84" height="4.2" fill="url(#gm)" stroke="#44549a" stroke-width="0.4"/>
<text transform="translate(197.16,1146.03) scale(0.8,1)" text-anchor="end" font-size="7.2" fill="#1a1a1a">-0.11</text>
<text transform="translate(154.81,1155.42) scale(0.85,1)" text-anchor="end" font-size="7.5" fill="#1a1a1a">Malaysia</text>
<rect x="184.77" y="1150.36" width="34.23" height="4.2" fill="url(#gm)" stroke="#44549a" stroke-width="0.4"/>
<text transform="translate(181.77,1155.3) scale(0.8,1)" text-anchor="end" font-size="7.2" fill="#1a1a1a">-0.20*</text>
<text transform="translate(154.87,1164.8) scale(0.85,1)" text-anchor="end" font-size="7.5" fill="#1a1a1a">North Korea</text>
<rect x="212.16" y="1159.74" width="6.84" height="4.2" fill="url(#gm)" stroke="#44549a" stroke-width="0.4"/>
<text transform="translate(209.16,1164.67) scale(0.8,1)" text-anchor="end" font-size="7.2" fill="#1a1a1a">-0.04</text>
<text transform="translate(154.93,1174.02) scale(0.85,1)" text-anchor="end" font-size="7.5" fill="#1a1a1a">South Korea</text>
<rect x="213.87" y="1168.97" width="5.13" height="4.2" fill="url(#gm)" stroke="#44549a" stroke-width="0.4"/>
<text transform="translate(210.87,1173.9) scale(0.8,1)" text-anchor="end" font-size="7.2" fill="#1a1a1a">-0.03</text>
<text transform="translate(154.99,1183.3) scale(0.85,1)" text-anchor="end" font-size="7.5" fill="#1a1a1a">India</text>
<rect x="208.76" y="1178.24" width="10.24" height="4.2" fill="url(#gm)" stroke="#44549a" stroke-width="0.4"/>
<text transform="translate(205.76,1183.17) scale(0.8,1)" text-anchor="end" font-size="7.2" fill="#1a1a1a">-0.06*</text>
<text transform="translate(155.04,1192.57) scale(0.85,1)" text-anchor="end" font-size="7.5" fill="#1a1a1a">Philippines</text>
<rect x="184.88" y="1187.51" width="34.12" height="4.2" fill="url(#gm)" stroke="#44549a" stroke-width="0.4"/>
<text transform="translate(181.88,1192.45) scale(0.8,1)" text-anchor="end" font-size="7.2" fill="#1a1a1a">-0.20*</text>
<text transform="translate(155.1,1201.79) scale(0.85,1)" text-anchor="end" font-size="7.5" fill="#1a1a1a">New Zealand</text>
<rect x="196.84" y="1196.73" width="22.16" height="4.2" fill="url(#gm)" stroke="#44549a" stroke-width="0.4"/>
<text transform="translate(193.84,1201.66) scale(0.8,1)" text-anchor="end" font-size="7.2" fill="#1a1a1a">-0.13*</text>
<text transform="translate(155.16,1211.02) scale(0.85,1)" text-anchor="end" font-size="7.5" fill="#1a1a1a">Australia</text>
<rect x="190.05" y="1205.96" width="28.95" height="4.2" fill="url(#gm)" stroke="#44549a" stroke-width="0.4"/>
<text transform="translate(187.05,1210.9) scale(0.8,1)" text-anchor="end" font-size="7.2" fill="#1a1a1a">-0.17</text>
<text transform="translate(155.21,1220.18) scale(0.85,1)" text-anchor="end" font-size="7.5" fill="#1a1a1a">Cook Islands</text>
<rect x="203.68" y="1215.12" width="15.32" height="4.2" fill="url(#gm)" stroke="#44549a" stroke-width="0.4"/>
<text transform="translate(200.68,1220.06) scale(0.8,1)" text-anchor="end" font-size="7.2" fill="#1a1a1a">-0.09</text>
<text transform="translate(155.27,1229.39) scale(0.85,1)" text-anchor="end" font-size="7.5" fill="#1a1a1a">Solomon Islands</text>
<rect x="207.1" y="1224.33" width="11.9" height="4.2" fill="url(#gm)" stroke="#44549a" stroke-width="0.4"/>
<text transform="translate(204.1,1229.26) scale(0.8,1)" text-anchor="end" font-size="7.2" fill="#1a1a1a">-0.07</text>
<text transform="translate(155.33,1238.55) scale(0.85,1)" text-anchor="end" font-size="7.5" fill="#1a1a1a">Marshall Islands</text>
<rect x="188.42" y="1233.49" width="30.58" height="4.2" fill="url(#gm)" stroke="#44549a" stroke-width="0.4"/>
<text transform="translate(185.42,1238.43) scale(0.8,1)" text-anchor="end" font-size="7.2" fill="#1a1a1a">-0.18</text>
<text transform="translate(155.39,1247.61) scale(0.85,1)" text-anchor="end" font-size="7.5" fill="#1a1a1a">Southern Sub-Saharan Africa</text>
<rect x="213.91" y="1242.55" width="5.09" height="4.2" fill="url(#gm)" stroke="#44549a" stroke-width="0.4"/>
<text transform="translate(210.91,1247.49) scale(0.8,1)" text-anchor="end" font-size="7.2" fill="#1a1a1a">-0.03</text>
<text transform="translate(155.44,1256.79) scale(0.85,1)" text-anchor="end" font-size="7.5" fill="#1a1a1a">Eastern Sub-Saharan Africa</text>
<rect x="219" y="1251.43" width="1.7" height="4.8" fill="#26346e" opacity="0.9"/>
<text transform="translate(215.35,1256.67) scale(0.8,1)" text-anchor="end" font-size="7.2" fill="#1a1a1a">0.01</text>
<text transform="translate(155.5,1265.99) scale(0.85,1)" text-anchor="end" font-size="7.5" fill="#1a1a1a">Western Sub-Saharan Africa</text>
<rect x="219" y="1260.93" width="27.12" height="4.2" fill="url(#gm)" stroke="#44549a" stroke-width="0.4"/>
<text transform="translate(249.12,1265.86) scale(0.8,1)" text-anchor="start" font-size="7.2" fill="#1a1a1a">0.16*</text>
<text transform="translate(155.56,1275.13) scale(0.85,1)" text-anchor="end" font-size="7.5" fill="#1a1a1a">Central Sub-Saharan Africa</text>
<rect x="219" y="1270.07" width="10.16" height="4.2" fill="url(#gm)" stroke="#44549a" stroke-width="0.4"/>
<text transform="translate(232.16,1275) scale(0.8,1)" text-anchor="start" font-size="7.2" fill="#1a1a1a">0.06</text>
<text transform="translate(155.61,1284.22) scale(0.85,1)" text-anchor="end" font-size="7.5" fill="#1a1a1a">Egypt</text>
<rect x="219" y="1279.16" width="76.14" height="4.2" fill="url(#gm)" stroke="#44549a" stroke-width="0.4"/>
<text transform="translate(297,1278.43) scale(0.8,1)" text-anchor="start" font-size="7.2" fill="#1a1a1a">0.45*</text>
<text transform="translate(155.67,1293.29) scale(0.85,1)" text-anchor="end" font-size="7.5" fill="#1a1a1a">Kuwait</text>
<rect x="219" y="1288.23" width="101.44" height="4.2" fill="url(#gm)" stroke="#44549a" stroke-width="0.4"/>
<text transform="translate(308.8,1285.43) scale(0.8,1)" text-anchor="start" font-size="7.2" fill="#1a1a1a">0.60*</text>
<text transform="translate(155.73,1302.36) scale(0.85,1)" text-anchor="end" font-size="7.5" fill="#1a1a1a">Bahrain</text>
<rect x="219" y="1297.3" width="13.51" height="4.2" fill="url(#gm)" stroke="#44549a" stroke-width="0.4"/>
<text transform="translate(235.51,1302.23) scale(0.8,1)" text-anchor="start" font-size="7.2" fill="#1a1a1a">0.08</text>
<text transform="translate(155.79,1311.35) scale(0.85,1)" text-anchor="end" font-size="7.5" fill="#1a1a1a">Morocco</text>
<rect x="219" y="1306.3" width="84.4" height="4.2" fill="url(#gm)" stroke="#44549a" stroke-width="0.4"/>
<text transform="translate(306.4,1311.23) scale(0.8,1)" text-anchor="start" font-size="7.2" fill="#1a1a1a">0.50*</text>
<text transform="translate(155.84,1320.44) scale(0.85,1)" text-anchor="end" font-size="7.5" fill="#1a1a1a">Yemen</text>
<rect x="219" y="1315.38" width="25.3" height="4.2" fill="url(#gm)" stroke="#44549a" stroke-width="0.4"/>
<text transform="translate(247.3,1320.32) scale(0.8,1)" text-anchor="start" font-size="7.2" fill="#1a1a1a">0.15</text>
<text transform="translate(155.9,1329.44) scale(0.85,1)" text-anchor="end" font-size="7.5" fill="#1a1a1a">Sudan</text>
<rect x="219" y="1324.38" width="33.7" height="4.2" fill="url(#gm)" stroke="#44549a" stroke-width="0.4"/>
<text transform="translate(255.7,1329.31) scale(0.8,1)" text-anchor="start" font-size="7.2" fill="#1a1a1a">0.20</text>
<text transform="translate(155.96,1338.42) scale(0.85,1)" text-anchor="end" font-size="7.5" fill="#1a1a1a">Qatar</text>
<rect x="219" y="1333.36" width="74.09" height="4.2" fill="url(#gm)" stroke="#44549a" stroke-width="0.4"/>
<text transform="translate(296.09,1338.3) scale(0.8,1)" text-anchor="start" font-size="7.2" fill="#1a1a1a">0.44*</text>
<text transform="translate(156.01,1347.42) scale(0.85,1)" text-anchor="end" font-size="7.5" fill="#1a1a1a">Palestine</text>
<rect x="219" y="1342.37" width="38.7" height="4.2" fill="url(#gm)" stroke="#44549a" stroke-width="0.4"/>
<text transform="translate(260.7,1347.3) scale(0.8,1)" text-anchor="start" font-size="7.2" fill="#1a1a1a">0.23*</text>
<text transform="translate(156.07,1356.4) scale(0.85,1)" text-anchor="end" font-size="7.5" fill="#1a1a1a">Estonia</text>
<rect x="219" y="1351.34" width="68.92" height="4.2" fill="url(#gm)" stroke="#44549a" stroke-width="0.4"/>
<text transform="translate(290.92,1356.27) scale(0.8,1)" text-anchor="start" font-size="7.2" fill="#1a1a1a">0.41*</text>
<text transform="translate(156.13,1365.32) scale(0.85,1)" text-anchor="end" font-size="7.5" fill="#1a1a1a">Lithuania</text>
<rect x="219" y="1360.27" width="3.36" height="4.2" fill="url(#gm)" stroke="#44549a" stroke-width="0.4"/>
<text transform="translate(225.36,1365.2) scale(0.8,1)" text-anchor="start" font-size="7.2" fill="#1a1a1a">0.02</text>
<text transform="translate(156.19,1374.24) scale(0.85,1)" text-anchor="end" font-size="7.5" fill="#1a1a1a">Belarus</text>
<rect x="182.08" y="1369.18" width="36.92" height="4.2" fill="url(#gm)" stroke="#44549a" stroke-width="0.4"/>
<text transform="translate(179.08,1374.12) scale(0.8,1)" text-anchor="end" font-size="7.2" fill="#1a1a1a">-0.22*</text>
<text transform="translate(156.24,1383.22) scale(0.85,1)" text-anchor="end" font-size="7.5" fill="#1a1a1a">Netherlands</text>
<rect x="217.32" y="1377.86" width="1.68" height="4.8" fill="#26346e" opacity="0.9"/>
<text transform="translate(214.32,1383.1) scale(0.8,1)" text-anchor="end" font-size="7.2" fill="#1a1a1a">-0.01</text>
<text transform="translate(156.3,1392.15) scale(0.85,1)" text-anchor="end" font-size="7.5" fill="#1a1a1a">Cyprus</text>
<rect x="219" y="1387.1" width="6.7" height="4.2" fill="url(#gm)" stroke="#44549a" stroke-width="0.4"/>
<text transform="translate(228.7,1392.03) scale(0.8,1)" text-anchor="start" font-size="7.2" fill="#1a1a1a">0.04</text>
<text transform="translate(156.36,1401.01) scale(0.85,1)" text-anchor="end" font-size="7.5" fill="#1a1a1a">Belgium</text>
<rect x="210.63" y="1395.96" width="8.37" height="4.2" fill="url(#gm)" stroke="#44549a" stroke-width="0.4"/>
<text transform="translate(207.63,1400.89) scale(0.8,1)" text-anchor="end" font-size="7.2" fill="#1a1a1a">-0.05</text>
<text transform="translate(156.41,1409.85) scale(0.85,1)" text-anchor="end" font-size="7.5" fill="#1a1a1a">Austria</text>
<rect x="219" y="1404.49" width="1.67" height="4.8" fill="#26346e" opacity="0.9"/>
<text transform="translate(223.67,1409.72) scale(0.8,1)" text-anchor="start" font-size="7.2" fill="#1a1a1a">0.01</text>
<text transform="translate(156.47,1418.68) scale(0.85,1)" text-anchor="end" font-size="7.5" fill="#1a1a1a">Hungary</text>
<rect x="219" y="1413.62" width="31.76" height="4.2" fill="url(#gm)" stroke="#44549a" stroke-width="0.4"/>
<text transform="translate(253.76,1418.56) scale(0.8,1)" text-anchor="start" font-size="7.2" fill="#1a1a1a">0.19</text>
<text transform="translate(156.53,1427.55) scale(0.85,1)" text-anchor="end" font-size="7.5" fill="#1a1a1a">Poland</text>
<rect x="219" y="1422.49" width="38.41" height="4.2" fill="url(#gm)" stroke="#44549a" stroke-width="0.4"/>
<text transform="translate(260.41,1427.42) scale(0.8,1)" text-anchor="start" font-size="7.2" fill="#1a1a1a">0.23*</text>
<text transform="translate(156.59,1436.37) scale(0.85,1)" text-anchor="end" font-size="7.5" fill="#1a1a1a">Slovakia</text>
<rect x="219" y="1431.31" width="75.09" height="4.2" fill="url(#gm)" stroke="#44549a" stroke-width="0.4"/>
<text transform="translate(297.09,1436.24) scale(0.8,1)" text-anchor="start" font-size="7.2" fill="#1a1a1a">0.45*</text>
<text transform="translate(156.64,1445.21) scale(0.85,1)" text-anchor="end" font-size="7.5" fill="#1a1a1a">Slovenia</text>
<rect x="219" y="1440.15" width="28.34" height="4.2" fill="url(#gm)" stroke="#44549a" stroke-width="0.4"/>
<text transform="translate(250.34,1445.08) scale(0.8,1)" text-anchor="start" font-size="7.2" fill="#1a1a1a">0.17</text>
<text transform="translate(156.7,1454.05) scale(0.85,1)" text-anchor="end" font-size="7.5" fill="#1a1a1a">Uruguay</text>
<rect x="219" y="1448.99" width="28.32" height="4.2" fill="url(#gm)" stroke="#44549a" stroke-width="0.4"/>
<text transform="translate(250.32,1453.92) scale(0.8,1)" text-anchor="start" font-size="7.2" fill="#1a1a1a">0.17</text>
<text transform="translate(156.76,1462.78) scale(0.85,1)" text-anchor="end" font-size="7.5" fill="#1a1a1a">Argentina</text>
<rect x="219" y="1457.73" width="19.97" height="4.2" fill="url(#gm)" stroke="#44549a" stroke-width="0.4"/>
<text transform="translate(241.97,1462.66) scale(0.8,1)" text-anchor="start" font-size="7.2" fill="#1a1a1a">0.12</text>
<text transform="translate(156.81,1471.54) scale(0.85,1)" text-anchor="end" font-size="7.5" fill="#1a1a1a">Chile</text>
<rect x="219" y="1466.48" width="26.61" height="4.2" fill="url(#gm)" stroke="#44549a" stroke-width="0.4"/>
<text transform="translate(248.61,1471.41) scale(0.8,1)" text-anchor="start" font-size="7.2" fill="#1a1a1a">0.16</text>
<text transform="translate(156.87,1480.29) scale(0.85,1)" text-anchor="end" font-size="7.5" fill="#1a1a1a">US America</text>
<rect x="210.69" y="1475.23" width="8.31" height="4.2" fill="url(#gm)" stroke="#44549a" stroke-width="0.4"/>
<text transform="translate(207.69,1480.17) scale(0.8,1)" text-anchor="end" font-size="7.2" fill="#1a1a1a">-0.05</text>
<text transform="translate(156.93,1489.02) scale(0.85,1)" text-anchor="end" font-size="7.5" fill="#1a1a1a">California</text>
<rect x="210.7" y="1483.96" width="8.3" height="4.2" fill="url(#gm)" stroke="#44549a" stroke-width="0.4"/>
<text transform="translate(207.7,1488.89) scale(0.8,1)" text-anchor="end" font-size="7.2" fill="#1a1a1a">-0.05</text>
<text transform="translate(156.99,1497.74) scale(0.85,1)" text-anchor="end" font-size="7.5" fill="#1a1a1a">Greenland</text>
<rect x="215.68" y="1492.69" width="3.32" height="4.2" fill="url(#gm)" stroke="#44549a" stroke-width="0.4"/>
<text transform="translate(212.68,1497.62) scale(0.8,1)" text-anchor="end" font-size="7.2" fill="#1a1a1a">-0.02</text>
<text transform="translate(157.04,1506.41) scale(0.85,1)" text-anchor="end" font-size="7.5" fill="#1a1a1a">Canada</text>
<rect x="204.08" y="1501.36" width="14.92" height="4.2" fill="url(#gm)" stroke="#44549a" stroke-width="0.4"/>
<text transform="translate(201.08,1506.29) scale(0.8,1)" text-anchor="end" font-size="7.2" fill="#1a1a1a">-0.09</text>
<text transform="translate(157.1,1515.05) scale(0.85,1)" text-anchor="end" font-size="7.5" fill="#1a1a1a">Uganda</text>
<rect x="219" y="1509.7" width="1.66" height="4.8" fill="#26346e" opacity="0.9"/>
<text transform="translate(223.66,1514.93) scale(0.8,1)" text-anchor="start" font-size="7.2" fill="#1a1a1a">0.01</text>
<text transform="translate(445.6,1038.1) scale(0.82,1)" text-anchor="start" font-size="9.31" font-weight="bold" letter-spacing="1.02" fill="#1a1a1a">FEMALE INCIDENCE 75+ YEARS OLD</text>
<path d="M408.2 1064.1H395.8V1192.7H408.2" class="br"/>
<line x1="383.4" y1="1128.4" x2="395.8" y2="1128.4" class="tk"/>
<text transform="translate(378.5,1130.77) scale(0.81,1)" text-anchor="end" font-size="7.25" fill="#1a1a1a">Asia</text>
<path d="M408.2 1198.9H395.8V1211.3H408.2" class="br"/>
<line x1="383.4" y1="1205.1" x2="395.8" y2="1205.1" class="tk"/>
<text transform="translate(378.5,1207.37) scale(0.81,1)" text-anchor="end" font-size="7.25" fill="#1a1a1a">Australasia</text>
<path d="M408.2 1216.3H395.8V1236.2H408.2" class="br"/>
<line x1="383.4" y1="1226.7" x2="395.8" y2="1226.7" class="tk"/>
<text transform="translate(378.5,1229.37) scale(0.81,1)" text-anchor="end" font-size="7.25" fill="#1a1a1a">Oceania</text>
<path d="M408.2 1244.8H395.8V1273.4H408.2" class="br"/>
<line x1="383.4" y1="1259.2" x2="395.8" y2="1259.2" class="tk"/>
<text transform="translate(364.5,1256.87) scale(0.81,1)" text-anchor="middle" font-size="7.25" fill="#1a1a1a">Sub-Saharan</text>
<text transform="translate(364.5,1265.57) scale(0.81,1)" text-anchor="middle" font-size="7.25" fill="#1a1a1a">Africa</text>
<path d="M408.2 1283.7H395.8V1343.7H408.2" class="br"/>
<line x1="383.4" y1="1313.7" x2="395.8" y2="1313.7" class="tk"/>
<text transform="translate(363.5,1310.37) scale(0.81,1)" text-anchor="middle" font-size="7.25" fill="#1a1a1a">Middle East</text>
<text transform="translate(363.5,1319.07) scale(0.81,1)" text-anchor="middle" font-size="7.25" fill="#1a1a1a">and</text>
<text transform="translate(363.5,1328.17) scale(0.81,1)" text-anchor="middle" font-size="7.25" fill="#1a1a1a">North Africa</text>
<path d="M408.2 1352.4H395.8V1441.3H408.2" class="br"/>
<line x1="383.4" y1="1397.1" x2="395.8" y2="1397.1" class="tk"/>
<text transform="translate(378.5,1402.17) scale(0.81,1)" text-anchor="end" font-size="7.25" fill="#1a1a1a">Europe</text>
<path d="M408.2 1447.5H395.8V1503.3H408.2" class="br"/>
<line x1="383.4" y1="1475.3" x2="395.8" y2="1475.3" class="tk"/>
<text transform="translate(378.5,1477.67) scale(0.81,1)" text-anchor="end" font-size="7.25" fill="#1a1a1a">America</text>
<line x1="383.4" y1="1512" x2="408.2" y2="1512" class="br"/>
<text transform="translate(378.5,1514.37) scale(0.81,1)" text-anchor="end" font-size="7.25" fill="#1a1a1a">Africa</text>
<text transform="translate(485.1,1068.96) scale(0.85,1)" text-anchor="end" font-size="7.5" fill="#1a1a1a">Indonesia</text>
<rect x="538.2" y="1063.9" width="42" height="4.2" fill="url(#gf)" stroke="#c0463c" stroke-width="0.4"/>
<text transform="translate(583.2,1068.84) scale(0.8,1)" text-anchor="start" font-size="7.2" fill="#1a1a1a">0.27*</text>
<text transform="translate(485.16,1078.51) scale(0.85,1)" text-anchor="end" font-size="7.5" fill="#1a1a1a">Pakistan</text>
<rect x="538.2" y="1073.16" width="1.55" height="4.8" fill="#a82020" opacity="0.9"/>
<text transform="translate(542.75,1078.39) scale(0.8,1)" text-anchor="start" font-size="7.2" fill="#1a1a1a">0.01</text>
<text transform="translate(485.22,1087.98) scale(0.85,1)" text-anchor="end" font-size="7.5" fill="#1a1a1a">Bangladesh</text>
<rect x="533.54" y="1082.92" width="4.66" height="4.2" fill="url(#gf)" stroke="#c0463c" stroke-width="0.4"/>
<text transform="translate(530.54,1087.86) scale(0.8,1)" text-anchor="end" font-size="7.2" fill="#1a1a1a">-0.03</text>
<text transform="translate(485.28,1097.37) scale(0.85,1)" text-anchor="end" font-size="7.5" fill="#1a1a1a">Sri Lanka</text>
<rect x="538.2" y="1092.32" width="37.24" height="4.2" fill="url(#gf)" stroke="#c0463c" stroke-width="0.4"/>
<text transform="translate(578.44,1097.25) scale(0.8,1)" text-anchor="start" font-size="7.2" fill="#1a1a1a">0.24*</text>
<text transform="translate(485.34,1106.86) scale(0.85,1)" text-anchor="end" font-size="7.5" fill="#1a1a1a">China</text>
<rect x="522.69" y="1101.8" width="15.51" height="4.2" fill="url(#gf)" stroke="#c0463c" stroke-width="0.4"/>
<text transform="translate(519.69,1106.74) scale(0.8,1)" text-anchor="end" font-size="7.2" fill="#1a1a1a">-0.10*</text>
<text transform="translate(485.4,1116.27) scale(0.85,1)" text-anchor="end" font-size="7.5" fill="#1a1a1a">Japan</text>
<rect x="538.2" y="1111.21" width="10.84" height="4.2" fill="url(#gf)" stroke="#c0463c" stroke-width="0.4"/>
<text transform="translate(552.04,1116.15) scale(0.8,1)" text-anchor="start" font-size="7.2" fill="#1a1a1a">0.07</text>
<text transform="translate(485.46,1125.71) scale(0.85,1)" text-anchor="end" font-size="7.5" fill="#1a1a1a">Taiwan</text>
<rect x="528.91" y="1120.66" width="9.29" height="4.2" fill="url(#gf)" stroke="#c0463c" stroke-width="0.4"/>
<text transform="translate(525.91,1125.59) scale(0.8,1)" text-anchor="end" font-size="7.2" fill="#1a1a1a">-0.06</text>
<text transform="translate(485.51,1135.11) scale(0.85,1)" text-anchor="end" font-size="7.5" fill="#1a1a1a">Singapore</text>
<rect x="519.64" y="1130.06" width="18.56" height="4.2" fill="url(#gf)" stroke="#c0463c" stroke-width="0.4"/>
<text transform="translate(516.64,1134.99) scale(0.8,1)" text-anchor="end" font-size="7.2" fill="#1a1a1a">-0.12</text>
<text transform="translate(485.57,1144.52) scale(0.85,1)" text-anchor="end" font-size="7.5" fill="#1a1a1a">Thailand</text>
<rect x="538.2" y="1139.46" width="7.73" height="4.2" fill="url(#gf)" stroke="#c0463c" stroke-width="0.4"/>
<text transform="translate(548.93,1144.4) scale(0.8,1)" text-anchor="start" font-size="7.2" fill="#1a1a1a">0.05</text>
<text transform="translate(485.63,1153.91) scale(0.85,1)" text-anchor="end" font-size="7.5" fill="#1a1a1a">Malaysia</text>
<rect x="538.2" y="1148.55" width="1.54" height="4.8" fill="#a82020" opacity="0.9"/>
<text transform="translate(542.74,1153.79) scale(0.8,1)" text-anchor="start" font-size="7.2" fill="#1a1a1a">0.01</text>
<text transform="translate(485.69,1163.3) scale(0.85,1)" text-anchor="end" font-size="7.5" fill="#1a1a1a">North Korea</text>
<rect x="530.48" y="1158.24" width="7.72" height="4.2" fill="url(#gf)" stroke="#c0463c" stroke-width="0.4"/>
<text transform="translate(527.48,1163.18) scale(0.8,1)" text-anchor="end" font-size="7.2" fill="#1a1a1a">-0.05</text>
<text transform="translate(485.75,1172.6) scale(0.85,1)" text-anchor="end" font-size="7.5" fill="#1a1a1a">South Korea</text>
<rect x="524.32" y="1167.55" width="13.88" height="4.2" fill="url(#gf)" stroke="#c0463c" stroke-width="0.4"/>
<text transform="translate(521.32,1172.48) scale(0.8,1)" text-anchor="end" font-size="7.2" fill="#1a1a1a">-0.09</text>
<text transform="translate(485.81,1181.88) scale(0.85,1)" text-anchor="end" font-size="7.5" fill="#1a1a1a">India</text>
<rect x="533.58" y="1176.82" width="4.62" height="4.2" fill="url(#gf)" stroke="#c0463c" stroke-width="0.4"/>
<text transform="translate(530.58,1181.76) scale(0.8,1)" text-anchor="end" font-size="7.2" fill="#1a1a1a">-0.03*</text>
<text transform="translate(485.87,1191.25) scale(0.85,1)" text-anchor="end" font-size="7.5" fill="#1a1a1a">Philippines</text>
<rect x="508.95" y="1186.19" width="29.25" height="4.2" fill="url(#gf)" stroke="#c0463c" stroke-width="0.4"/>
<text transform="translate(505.95,1191.13) scale(0.8,1)" text-anchor="end" font-size="7.2" fill="#1a1a1a">-0.19</text>
<text transform="translate(485.93,1200.5) scale(0.85,1)" text-anchor="end" font-size="7.5" fill="#1a1a1a">New Zealand</text>
<rect x="538.2" y="1195.44" width="16.92" height="4.2" fill="url(#gf)" stroke="#c0463c" stroke-width="0.4"/>
<text transform="translate(558.12,1200.38) scale(0.8,1)" text-anchor="start" font-size="7.2" fill="#1a1a1a">0.11</text>
<text transform="translate(485.99,1209.84) scale(0.85,1)" text-anchor="end" font-size="7.5" fill="#1a1a1a">Australia</text>
<rect x="538.2" y="1204.79" width="9.22" height="4.2" fill="url(#gf)" stroke="#c0463c" stroke-width="0.4"/>
<text transform="translate(550.42,1209.72) scale(0.8,1)" text-anchor="start" font-size="7.2" fill="#1a1a1a">0.06</text>
<text transform="translate(486.05,1219.11) scale(0.85,1)" text-anchor="end" font-size="7.5" fill="#1a1a1a">Cook Islands</text>
<rect x="527.45" y="1214.06" width="10.75" height="4.2" fill="url(#gf)" stroke="#c0463c" stroke-width="0.4"/>
<text transform="translate(524.45,1218.99) scale(0.8,1)" text-anchor="end" font-size="7.2" fill="#1a1a1a">-0.07</text>
<text transform="translate(486.11,1228.34) scale(0.85,1)" text-anchor="end" font-size="7.5" fill="#1a1a1a">Solomon Islands</text>
<rect x="528.99" y="1223.28" width="9.21" height="4.2" fill="url(#gf)" stroke="#c0463c" stroke-width="0.4"/>
<text transform="translate(525.99,1228.22) scale(0.8,1)" text-anchor="end" font-size="7.2" fill="#1a1a1a">-0.06</text>
<text transform="translate(486.17,1237.51) scale(0.85,1)" text-anchor="end" font-size="7.5" fill="#1a1a1a">Marshall Islands</text>
<rect x="515.2" y="1232.45" width="23" height="4.2" fill="url(#gf)" stroke="#c0463c" stroke-width="0.4"/>
<text transform="translate(512.2,1237.38) scale(0.8,1)" text-anchor="end" font-size="7.2" fill="#1a1a1a">-0.15*</text>
<text transform="translate(486.22,1246.75) scale(0.85,1)" text-anchor="end" font-size="7.5" fill="#1a1a1a">Southern Sub-Saharan Africa</text>
<rect x="537.55" y="1241.4" width="1.3" height="4.8" fill="#a82020" opacity="0.9"/>
<text transform="translate(541.85,1246.63) scale(0.8,1)" text-anchor="start" font-size="7.2" fill="#1a1a1a">0.00</text>
<text transform="translate(486.28,1255.96) scale(0.85,1)" text-anchor="end" font-size="7.5" fill="#1a1a1a">Eastern Sub-Saharan Africa</text>
<rect x="538.2" y="1250.9" width="4.59" height="4.2" fill="url(#gf)" stroke="#c0463c" stroke-width="0.4"/>
<text transform="translate(545.79,1255.83) scale(0.8,1)" text-anchor="start" font-size="7.2" fill="#1a1a1a">0.03</text>
<text transform="translate(486.34,1265.12) scale(0.85,1)" text-anchor="end" font-size="7.5" fill="#1a1a1a">Western Sub-Saharan Africa</text>
<rect x="538.2" y="1260.06" width="35.18" height="4.2" fill="url(#gf)" stroke="#c0463c" stroke-width="0.4"/>
<text transform="translate(576.38,1264.99) scale(0.8,1)" text-anchor="start" font-size="7.2" fill="#1a1a1a">0.23*</text>
<text transform="translate(486.4,1274.31) scale(0.85,1)" text-anchor="end" font-size="7.5" fill="#1a1a1a">Central Sub-Saharan Africa</text>
<rect x="538.2" y="1269.25" width="29.03" height="4.2" fill="url(#gf)" stroke="#c0463c" stroke-width="0.4"/>
<text transform="translate(570.23,1274.18) scale(0.8,1)" text-anchor="start" font-size="7.2" fill="#1a1a1a">0.19*</text>
<text transform="translate(486.46,1283.44) scale(0.85,1)" text-anchor="end" font-size="7.5" fill="#1a1a1a">Egypt</text>
<rect x="538.2" y="1278.38" width="80.92" height="4.2" fill="url(#gf)" stroke="#c0463c" stroke-width="0.4"/>
<text transform="translate(622.12,1283.32) scale(0.8,1)" text-anchor="start" font-size="7.2" fill="#1a1a1a">0.53*</text>
<text transform="translate(486.52,1292.61) scale(0.85,1)" text-anchor="end" font-size="7.5" fill="#1a1a1a">Kuwait</text>
<rect x="538.2" y="1287.55" width="100.69" height="4.2" fill="url(#gf)" stroke="#c0463c" stroke-width="0.4"/>
<text transform="translate(641.89,1292.48) scale(0.8,1)" text-anchor="start" font-size="7.2" fill="#1a1a1a">0.66*</text>
<text transform="translate(486.58,1301.7) scale(0.85,1)" text-anchor="end" font-size="7.5" fill="#1a1a1a">Bahrain</text>
<rect x="538.2" y="1296.64" width="28.96" height="4.2" fill="url(#gf)" stroke="#c0463c" stroke-width="0.4"/>
<text transform="translate(570.16,1301.58) scale(0.8,1)" text-anchor="start" font-size="7.2" fill="#1a1a1a">0.19*</text>
<text transform="translate(486.64,1310.84) scale(0.85,1)" text-anchor="end" font-size="7.5" fill="#1a1a1a">Morocco</text>
<rect x="538.2" y="1305.78" width="85.3" height="4.2" fill="url(#gf)" stroke="#c0463c" stroke-width="0.4"/>
<text transform="translate(626.5,1310.72) scale(0.8,1)" text-anchor="start" font-size="7.2" fill="#1a1a1a">0.56*</text>
<text transform="translate(486.7,1320.01) scale(0.85,1)" text-anchor="end" font-size="7.5" fill="#1a1a1a">Yemen</text>
<rect x="538.2" y="1314.96" width="25.87" height="4.2" fill="url(#gf)" stroke="#c0463c" stroke-width="0.4"/>
<text transform="translate(567.07,1319.89) scale(0.8,1)" text-anchor="start" font-size="7.2" fill="#1a1a1a">0.17</text>
<text transform="translate(486.76,1329.07) scale(0.85,1)" text-anchor="end" font-size="7.5" fill="#1a1a1a">Sudan</text>
<rect x="538.2" y="1324.01" width="31.93" height="4.2" fill="url(#gf)" stroke="#c0463c" stroke-width="0.4"/>
<text transform="translate(573.13,1328.94) scale(0.8,1)" text-anchor="start" font-size="7.2" fill="#1a1a1a">0.21</text>
<text transform="translate(486.82,1338.12) scale(0.85,1)" text-anchor="end" font-size="7.5" fill="#1a1a1a">Qatar</text>
<rect x="538.2" y="1333.07" width="57.74" height="4.2" fill="url(#gf)" stroke="#c0463c" stroke-width="0.4"/>
<text transform="translate(598.94,1338) scale(0.8,1)" text-anchor="start" font-size="7.2" fill="#1a1a1a">0.38*</text>
<text transform="translate(486.88,1347.17) scale(0.85,1)" text-anchor="end" font-size="7.5" fill="#1a1a1a">Palestine</text>
<rect x="538.2" y="1342.11" width="50.1" height="4.2" fill="url(#gf)" stroke="#c0463c" stroke-width="0.4"/>
<text transform="translate(591.3,1347.04) scale(0.8,1)" text-anchor="start" font-size="7.2" fill="#1a1a1a">0.33*</text>
<text transform="translate(486.93,1356.2) scale(0.85,1)" text-anchor="end" font-size="7.5" fill="#1a1a1a">Estonia</text>
<rect x="538.2" y="1351.14" width="89.5" height="4.2" fill="url(#gf)" stroke="#c0463c" stroke-width="0.4"/>
<text transform="translate(630.7,1356.07) scale(0.8,1)" text-anchor="start" font-size="7.2" fill="#1a1a1a">0.59*</text>
<text transform="translate(486.99,1365.21) scale(0.85,1)" text-anchor="end" font-size="7.5" fill="#1a1a1a">Lithuania</text>
<rect x="538.2" y="1360.16" width="22.73" height="4.2" fill="url(#gf)" stroke="#c0463c" stroke-width="0.4"/>
<text transform="translate(563.93,1365.09) scale(0.8,1)" text-anchor="start" font-size="7.2" fill="#1a1a1a">0.15</text>
<text transform="translate(487.05,1374.17) scale(0.85,1)" text-anchor="end" font-size="7.5" fill="#1a1a1a">Belarus</text>
<rect x="515.48" y="1369.12" width="22.72" height="4.2" fill="url(#gf)" stroke="#c0463c" stroke-width="0.4"/>
<text transform="translate(512.48,1374.05) scale(0.8,1)" text-anchor="end" font-size="7.2" fill="#1a1a1a">-0.15</text>
<text transform="translate(487.11,1383.15) scale(0.85,1)" text-anchor="end" font-size="7.5" fill="#1a1a1a">Netherlands</text>
<rect x="538.2" y="1378.09" width="95.33" height="4.2" fill="url(#gf)" stroke="#c0463c" stroke-width="0.4"/>
<text transform="translate(636.53,1383.03) scale(0.8,1)" text-anchor="start" font-size="7.2" fill="#1a1a1a">0.63*</text>
<text transform="translate(487.17,1392.13) scale(0.85,1)" text-anchor="end" font-size="7.5" fill="#1a1a1a">Cyprus</text>
<rect x="538.2" y="1387.07" width="25.7" height="4.2" fill="url(#gf)" stroke="#c0463c" stroke-width="0.4"/>
<text transform="translate(566.9,1392.01) scale(0.8,1)" text-anchor="start" font-size="7.2" fill="#1a1a1a">0.17*</text>
<text transform="translate(487.23,1401.05) scale(0.85,1)" text-anchor="end" font-size="7.5" fill="#1a1a1a">Belgium</text>
<rect x="538.2" y="1395.99" width="46.83" height="4.2" fill="url(#gf)" stroke="#c0463c" stroke-width="0.4"/>
<text transform="translate(588.03,1400.93) scale(0.8,1)" text-anchor="start" font-size="7.2" fill="#1a1a1a">0.31*</text>
<text transform="translate(487.29,1410.02) scale(0.85,1)" text-anchor="end" font-size="7.5" fill="#1a1a1a">Austria</text>
<rect x="538.2" y="1404.97" width="28.68" height="4.2" fill="url(#gf)" stroke="#c0463c" stroke-width="0.4"/>
<text transform="translate(569.88,1409.9) scale(0.8,1)" text-anchor="start" font-size="7.2" fill="#1a1a1a">0.19*</text>
<text transform="translate(487.35,1418.99) scale(0.85,1)" text-anchor="end" font-size="7.5" fill="#1a1a1a">Hungary</text>
<rect x="538.2" y="1413.93" width="48.26" height="4.2" fill="url(#gf)" stroke="#c0463c" stroke-width="0.4"/>
<text transform="translate(589.46,1418.86) scale(0.8,1)" text-anchor="start" font-size="7.2" fill="#1a1a1a">0.32</text>
<text transform="translate(487.41,1427.9) scale(0.85,1)" text-anchor="end" font-size="7.5" fill="#1a1a1a">Poland</text>
<rect x="538.2" y="1422.84" width="48.22" height="4.2" fill="url(#gf)" stroke="#c0463c" stroke-width="0.4"/>
<text transform="translate(589.42,1427.77) scale(0.8,1)" text-anchor="start" font-size="7.2" fill="#1a1a1a">0.32*</text>
<text transform="translate(487.47,1436.81) scale(0.85,1)" text-anchor="end" font-size="7.5" fill="#1a1a1a">Slovakia</text>
<rect x="538.2" y="1431.76" width="60.23" height="4.2" fill="url(#gf)" stroke="#c0463c" stroke-width="0.4"/>
<text transform="translate(601.43,1436.69) scale(0.8,1)" text-anchor="start" font-size="7.2" fill="#1a1a1a">0.40*</text>
<text transform="translate(487.53,1445.71) scale(0.85,1)" text-anchor="end" font-size="7.5" fill="#1a1a1a">Slovenia</text>
<rect x="538.2" y="1440.66" width="61.68" height="4.2" fill="url(#gf)" stroke="#c0463c" stroke-width="0.4"/>
<text transform="translate(602.88,1445.59) scale(0.8,1)" text-anchor="start" font-size="7.2" fill="#1a1a1a">0.41*</text>
<text transform="translate(487.59,1454.6) scale(0.85,1)" text-anchor="end" font-size="7.5" fill="#1a1a1a">Uruguay</text>
<rect x="538.2" y="1449.54" width="54.12" height="4.2" fill="url(#gf)" stroke="#c0463c" stroke-width="0.4"/>
<text transform="translate(595.32,1454.48) scale(0.8,1)" text-anchor="start" font-size="7.2" fill="#1a1a1a">0.36*</text>
<text transform="translate(487.64,1463.52) scale(0.85,1)" text-anchor="end" font-size="7.5" fill="#1a1a1a">Argentina</text>
<rect x="538.2" y="1458.46" width="28.54" height="4.2" fill="url(#gf)" stroke="#c0463c" stroke-width="0.4"/>
<text transform="translate(569.74,1463.4) scale(0.8,1)" text-anchor="start" font-size="7.2" fill="#1a1a1a">0.19</text>
<text transform="translate(487.7,1472.32) scale(0.85,1)" text-anchor="end" font-size="7.5" fill="#1a1a1a">Chile</text>
<rect x="538.2" y="1467.27" width="39.02" height="4.2" fill="url(#gf)" stroke="#c0463c" stroke-width="0.4"/>
<text transform="translate(580.22,1472.2) scale(0.8,1)" text-anchor="start" font-size="7.2" fill="#1a1a1a">0.26*</text>
<text transform="translate(487.76,1481.13) scale(0.85,1)" text-anchor="end" font-size="7.5" fill="#1a1a1a">US America</text>
<rect x="538.2" y="1476.07" width="79.47" height="4.2" fill="url(#gf)" stroke="#c0463c" stroke-width="0.4"/>
<text transform="translate(620.67,1481) scale(0.8,1)" text-anchor="start" font-size="7.2" fill="#1a1a1a">0.53*</text>
<text transform="translate(487.82,1489.92) scale(0.85,1)" text-anchor="end" font-size="7.5" fill="#1a1a1a">California</text>
<rect x="538.2" y="1484.86" width="83.9" height="4.2" fill="url(#gf)" stroke="#c0463c" stroke-width="0.4"/>
<text transform="translate(625.1,1489.79) scale(0.8,1)" text-anchor="start" font-size="7.2" fill="#1a1a1a">0.56*</text>
<text transform="translate(487.88,1498.65) scale(0.85,1)" text-anchor="end" font-size="7.5" fill="#1a1a1a">Greenland</text>
<rect x="520.24" y="1493.59" width="17.96" height="4.2" fill="url(#gf)" stroke="#c0463c" stroke-width="0.4"/>
<text transform="translate(517.24,1498.53) scale(0.8,1)" text-anchor="end" font-size="7.2" fill="#1a1a1a">-0.12</text>
<text transform="translate(487.94,1507.46) scale(0.85,1)" text-anchor="end" font-size="7.5" fill="#1a1a1a">Canada</text>
<rect x="538.2" y="1502.4" width="23.93" height="4.2" fill="url(#gf)" stroke="#c0463c" stroke-width="0.4"/>
<text transform="translate(565.13,1507.34) scale(0.8,1)" text-anchor="start" font-size="7.2" fill="#1a1a1a">0.16</text>
<text transform="translate(488,1516.2) scale(0.85,1)" text-anchor="end" font-size="7.5" fill="#1a1a1a">Uganda</text>
<rect x="527.74" y="1511.14" width="10.46" height="4.2" fill="url(#gf)" stroke="#c0463c" stroke-width="0.4"/>
<text transform="translate(524.74,1516.08) scale(0.8,1)" text-anchor="end" font-size="7.2" fill="#1a1a1a">-0.07</text>
<text transform="translate(3.93,23.8) scale(0.94,1)" font-family="Liberation Sans" font-weight="bold" font-size="32.7" fill="#000" style="stroke:none">A</text>
<text transform="translate(6.14,492.7) scale(0.84,1)" font-family="Liberation Sans" font-weight="bold" font-size="36.48" fill="#000" style="stroke:none">B</text>
<text transform="translate(2.91,1028.66) scale(0.77,1)" font-family="Liberation Sans" font-weight="bold" font-size="37.77" fill="#000" style="stroke:none">C</text>
</svg>
</body></html>
